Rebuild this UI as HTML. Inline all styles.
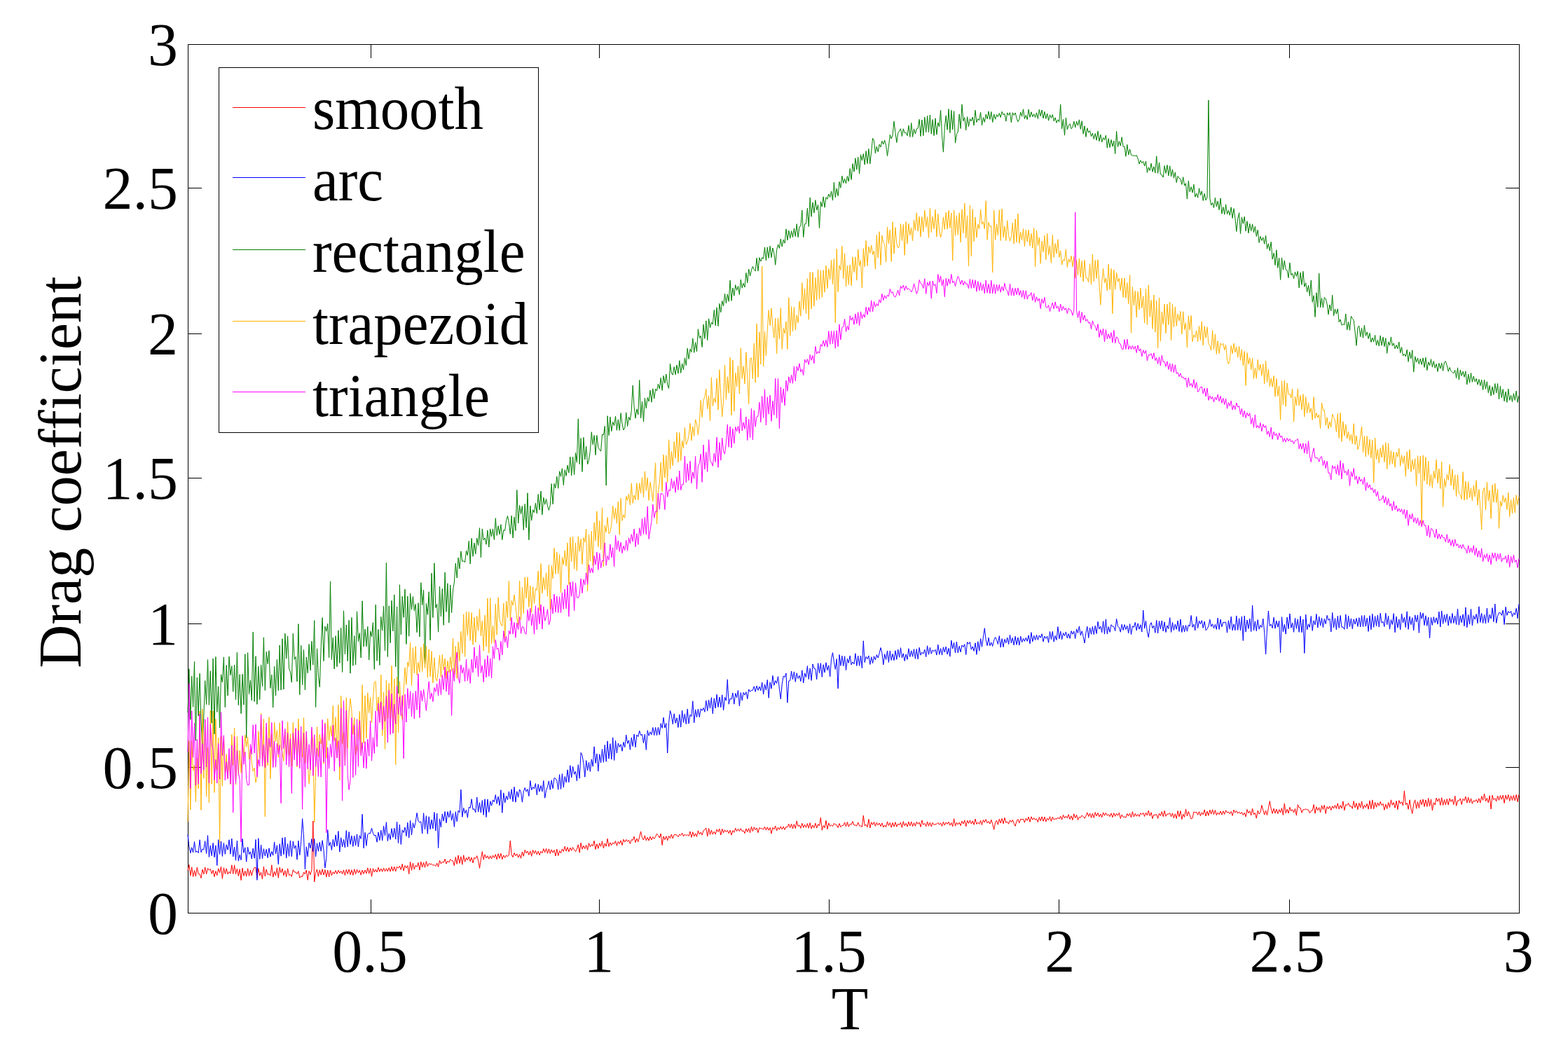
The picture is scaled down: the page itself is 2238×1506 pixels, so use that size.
<!DOCTYPE html><html><head><meta charset="utf-8"><style>html,body{margin:0;padding:0;background:#fff;overflow:hidden}svg{display:block}</style></head><body><svg width="2238" height="1506" viewBox="0 0 2238 1506">
<rect width="2238" height="1506" fill="#fff"/>
<path fill="none" stroke="#000" stroke-width="1" d="M268.5,63.5 H2168.5 V1303.5 H268.5 Z M529.5,1304 V1284 M529.5,63 V83 M855.5,1304 V1284 M855.5,63 V83 M1183.5,1304 V1284 M1183.5,63 V83 M1511.5,1304 V1284 M1511.5,63 V83 M1840.5,1304 V1284 M1840.5,63 V83 M2168.5,1304 V1284 M2168.5,63 V83 M268,1303.5 H288 M2169,1303.5 H2149 M268,1095.5 H288 M2169,1095.5 H2149 M268,890.5 H288 M2169,890.5 H2149 M268,682.5 H288 M2169,682.5 H2149 M268,476.5 H288 M2169,476.5 H2149 M268,268.5 H288 M2169,268.5 H2149 M268,63.5 H288 M2169,63.5 H2149"/>
<g fill="none" stroke-width="1" stroke-linejoin="miter">
<path stroke="#ff0000" d="M268.0,1242.8 L269.9,1234.4 271.8,1250.0 273.7,1237.8 275.6,1251.4 277.5,1242.5 279.4,1250.8 281.3,1238.0 283.2,1247.4 285.1,1247.9 287.0,1253.5 288.9,1241.1 290.8,1247.9 292.7,1237.9 294.6,1247.8 296.5,1239.4 298.4,1242.1 300.3,1240.4 302.2,1247.3 304.1,1242.1 306.0,1251.6 307.9,1243.5 309.8,1249.7 311.7,1239.8 313.6,1246.0 315.5,1237.1 317.4,1254.3 319.4,1238.7 321.3,1247.5 323.2,1239.9 325.1,1247.9 327.0,1244.3 328.9,1247.2 330.8,1234.8 332.7,1247.4 334.6,1234.8 336.5,1247.7 338.4,1240.0 340.3,1250.6 342.2,1240.7 344.1,1256.6 346.0,1239.1 347.9,1250.4 349.8,1243.3 351.7,1251.2 353.6,1239.7 355.5,1250.4 357.4,1242.2 359.3,1250.0 361.2,1242.0 363.1,1238.4 365.0,1238.4 366.9,1253.2 368.8,1239.6 370.7,1249.9 372.6,1245.2 374.5,1255.0 376.4,1237.1 378.3,1250.9 380.2,1240.9 382.1,1248.5 384.0,1247.4 385.9,1250.0 387.8,1234.7 389.7,1252.1 391.6,1243.9 393.5,1249.9 395.4,1238.8 397.3,1253.2 399.2,1238.1 401.1,1245.8 403.0,1240.0 404.9,1249.7 406.8,1242.6 408.7,1251.7 410.6,1239.8 412.5,1249.3 414.4,1248.3 416.3,1251.3 418.3,1241.5 420.2,1245.0 422.1,1244.9 424.0,1247.6 425.9,1243.6 427.8,1253.2 429.7,1250.7 431.6,1251.5 433.5,1245.1 435.4,1247.7 437.3,1242.0 439.2,1256.3 441.1,1243.4 443.0,1248.5 444.9,1241.6 446.8,1172.0 448.7,1259.0 450.6,1246.2 452.5,1241.0 454.4,1251.2 456.3,1241.9 458.2,1248.9 460.1,1240.7 462.0,1249.0 463.9,1241.5 465.8,1252.0 467.7,1242.0 469.6,1251.7 471.5,1242.0 473.4,1249.7 475.3,1244.6 477.2,1247.4 479.1,1242.6 481.0,1247.5 482.9,1242.3 484.8,1246.3 486.7,1243.2 488.6,1247.6 490.5,1241.8 492.4,1249.5 494.3,1241.3 496.2,1247.5 498.1,1240.9 500.0,1248.6 501.9,1241.8 503.8,1249.4 505.7,1240.7 507.6,1247.8 509.5,1241.1 511.4,1246.1 513.3,1242.3 515.2,1249.1 517.1,1242.1 519.1,1247.4 521.0,1242.0 522.9,1246.9 524.8,1238.9 526.7,1247.1 528.6,1239.5 530.5,1251.2 532.4,1239.7 534.3,1245.0 536.2,1241.1 538.1,1245.0 540.0,1238.2 541.9,1244.2 543.8,1239.9 545.7,1244.3 547.6,1239.0 549.5,1244.0 551.4,1239.7 553.3,1243.9 555.2,1238.7 557.1,1244.1 559.0,1237.0 560.9,1243.4 562.8,1237.2 564.7,1243.9 566.6,1237.1 568.5,1239.3 570.4,1236.2 572.3,1241.6 574.2,1233.3 576.1,1243.1 578.0,1235.6 579.9,1239.1 581.8,1235.5 583.7,1247.5 585.6,1230.2 587.5,1242.4 589.4,1232.0 591.3,1241.0 593.2,1235.1 595.1,1237.5 597.0,1231.4 598.9,1242.0 600.8,1230.2 602.7,1237.9 604.6,1231.1 606.5,1238.3 608.4,1229.5 610.3,1236.8 612.2,1232.6 614.1,1233.8 616.0,1233.2 617.9,1235.2 619.9,1234.6 621.8,1236.5 623.7,1232.1 625.6,1237.5 627.5,1228.1 629.4,1233.0 631.3,1230.2 633.2,1231.4 635.1,1226.2 637.0,1233.2 638.9,1229.0 640.8,1231.1 642.7,1226.7 644.6,1228.5 646.5,1228.9 648.4,1235.9 650.3,1223.5 652.2,1233.4 654.1,1220.9 656.0,1232.4 657.9,1222.8 659.8,1234.2 661.7,1220.7 663.6,1230.3 665.5,1224.5 667.4,1228.0 669.3,1222.9 671.2,1229.7 673.1,1223.9 675.0,1231.9 676.9,1224.1 678.8,1225.8 680.7,1221.6 682.6,1228.2 684.5,1239.4 686.4,1226.8 688.3,1215.6 690.2,1227.2 692.1,1219.8 694.0,1224.9 695.9,1221.7 697.8,1226.2 699.7,1221.7 701.6,1226.0 703.5,1221.0 705.4,1224.5 707.3,1219.6 709.2,1226.8 711.1,1218.6 713.0,1225.3 714.9,1218.2 716.8,1226.8 718.8,1220.9 720.7,1224.5 722.6,1220.7 724.5,1222.8 726.4,1220.0 728.3,1200.0 730.2,1219.8 732.1,1223.6 734.0,1217.4 735.9,1221.6 737.8,1218.9 739.7,1224.1 741.6,1219.7 743.5,1225.2 745.4,1215.9 747.3,1222.2 749.2,1213.2 751.1,1217.9 753.0,1215.0 754.9,1220.4 756.8,1214.8 758.7,1222.3 760.6,1213.4 762.5,1218.5 764.4,1214.1 766.3,1219.8 768.2,1215.2 770.1,1220.6 772.0,1215.3 773.9,1217.8 775.8,1211.5 777.7,1216.9 779.6,1211.3 781.5,1218.3 783.4,1211.8 785.3,1218.5 787.2,1212.8 789.1,1217.1 791.0,1213.5 792.9,1222.0 794.8,1212.1 796.7,1221.5 798.6,1214.6 800.5,1217.8 802.4,1211.8 804.3,1215.5 806.2,1208.2 808.1,1215.1 810.0,1209.4 811.9,1215.9 813.8,1210.0 815.7,1214.3 817.6,1209.6 819.6,1213.1 821.5,1215.6 823.4,1212.2 825.3,1205.8 827.2,1217.2 829.1,1203.0 831.0,1212.2 832.9,1207.3 834.8,1211.6 836.7,1206.3 838.6,1213.3 840.5,1203.4 842.4,1209.0 844.3,1205.4 846.2,1207.8 848.1,1200.2 850.0,1212.5 851.9,1204.7 853.8,1211.3 855.7,1203.6 857.6,1208.4 859.5,1200.7 861.4,1210.9 863.3,1203.8 865.2,1208.1 867.1,1197.2 869.0,1208.4 870.9,1202.8 872.8,1206.6 874.7,1202.9 876.6,1204.8 878.5,1200.5 880.4,1207.3 882.3,1201.4 884.2,1204.4 886.1,1199.8 888.0,1206.5 889.9,1198.2 891.8,1202.1 893.7,1198.4 895.6,1201.4 897.5,1199.1 899.4,1204.5 901.3,1198.6 903.2,1199.4 905.1,1194.2 907.0,1202.6 908.9,1197.1 910.8,1201.8 912.7,1194.7 914.6,1186.9 916.5,1195.6 918.5,1199.0 920.4,1192.7 922.3,1199.8 924.2,1195.3 926.1,1200.0 928.0,1194.1 929.9,1198.9 931.8,1194.6 933.7,1197.5 935.6,1194.4 937.5,1190.2 939.4,1192.3 941.3,1196.0 943.2,1190.0 945.1,1206.4 947.0,1193.8 948.9,1198.7 950.8,1193.5 952.7,1199.8 954.6,1193.3 956.5,1196.7 958.4,1190.9 960.3,1197.0 962.2,1191.5 964.1,1191.3 966.0,1192.1 967.9,1194.6 969.8,1191.0 971.7,1192.7 973.6,1189.0 975.5,1193.9 977.4,1191.0 979.3,1192.8 981.2,1191.4 983.1,1193.4 985.0,1186.9 986.9,1195.4 988.8,1187.7 990.7,1194.1 992.6,1189.7 994.5,1194.4 996.4,1185.7 998.3,1191.0 1000.2,1188.0 1002.1,1192.0 1004.0,1185.6 1005.9,1184.5 1007.8,1182.0 1009.7,1194.0 1011.6,1182.5 1013.5,1191.4 1015.4,1184.9 1017.3,1191.1 1019.3,1187.0 1021.2,1190.9 1023.1,1183.9 1025.0,1187.4 1026.9,1183.1 1028.8,1192.0 1030.7,1183.2 1032.6,1188.9 1034.5,1184.6 1036.4,1187.8 1038.3,1185.2 1040.2,1189.7 1042.1,1185.2 1044.0,1192.1 1045.9,1185.6 1047.8,1188.3 1049.7,1182.2 1051.6,1186.6 1053.5,1183.3 1055.4,1186.5 1057.3,1182.6 1059.2,1186.6 1061.1,1185.7 1063.0,1189.7 1064.9,1182.9 1066.8,1187.5 1068.7,1182.6 1070.6,1188.8 1072.5,1179.9 1074.4,1186.7 1076.3,1180.7 1078.2,1184.7 1080.1,1181.9 1082.0,1188.6 1083.9,1181.5 1085.8,1182.9 1087.7,1182.7 1089.6,1184.1 1091.5,1180.1 1093.4,1185.1 1095.3,1180.7 1097.2,1185.2 1099.1,1181.4 1101.0,1190.0 1102.9,1181.3 1104.8,1184.0 1106.7,1178.9 1108.6,1185.8 1110.5,1181.1 1112.4,1184.2 1114.3,1179.8 1116.2,1183.9 1118.2,1179.9 1120.1,1184.4 1122.0,1180.2 1123.9,1180.9 1125.8,1176.2 1127.7,1181.6 1129.6,1176.1 1131.5,1183.0 1133.4,1176.6 1135.3,1182.6 1137.2,1171.9 1139.1,1179.6 1141.0,1177.8 1142.9,1182.3 1144.8,1175.2 1146.7,1181.4 1148.6,1177.0 1150.5,1181.3 1152.4,1175.5 1154.3,1182.2 1156.2,1174.5 1158.1,1183.0 1160.0,1177.9 1161.9,1181.7 1163.8,1175.0 1165.7,1182.1 1167.6,1176.5 1169.5,1178.9 1171.4,1167.0 1173.3,1185.2 1175.2,1178.4 1177.1,1181.6 1179.0,1171.3 1180.9,1183.7 1182.8,1174.9 1184.7,1179.3 1186.6,1177.7 1188.5,1179.5 1190.4,1175.3 1192.3,1177.0 1194.2,1177.6 1196.1,1181.5 1198.0,1175.5 1199.9,1180.6 1201.8,1178.4 1203.7,1178.4 1205.6,1173.9 1207.5,1179.9 1209.4,1173.4 1211.3,1180.2 1213.2,1176.2 1215.1,1177.0 1217.0,1172.6 1219.0,1178.0 1220.9,1177.9 1222.8,1179.1 1224.7,1173.9 1226.6,1178.9 1228.5,1179.1 1230.4,1180.3 1232.3,1164.0 1234.2,1178.7 1236.1,1177.1 1238.0,1180.7 1239.9,1169.4 1241.8,1182.0 1243.7,1173.8 1245.6,1177.4 1247.5,1173.3 1249.4,1179.4 1251.3,1174.2 1253.2,1177.9 1255.1,1175.0 1257.0,1179.6 1258.9,1174.8 1260.8,1180.8 1262.7,1177.9 1264.6,1180.7 1266.5,1172.8 1268.4,1178.7 1270.3,1174.4 1272.2,1181.2 1274.1,1174.4 1276.0,1180.0 1277.9,1173.6 1279.8,1180.2 1281.7,1175.9 1283.6,1177.9 1285.5,1173.9 1287.4,1181.4 1289.3,1172.6 1291.2,1179.0 1293.1,1175.3 1295.0,1180.1 1296.9,1173.0 1298.8,1179.1 1300.7,1172.9 1302.6,1179.7 1304.5,1174.5 1306.4,1179.3 1308.3,1173.1 1310.2,1176.3 1312.1,1174.0 1314.0,1180.4 1315.9,1170.8 1317.8,1177.3 1319.8,1175.3 1321.7,1179.8 1323.6,1172.9 1325.5,1179.2 1327.4,1174.0 1329.3,1179.9 1331.2,1174.3 1333.1,1177.6 1335.0,1176.5 1336.9,1176.4 1338.8,1174.3 1340.7,1177.3 1342.6,1174.7 1344.5,1179.4 1346.4,1173.1 1348.3,1178.1 1350.2,1173.8 1352.1,1176.4 1354.0,1173.2 1355.9,1178.1 1357.8,1174.4 1359.7,1180.0 1361.6,1168.6 1363.5,1179.2 1365.4,1174.2 1367.3,1177.1 1369.2,1174.0 1371.1,1178.6 1373.0,1172.1 1374.9,1176.0 1376.8,1170.8 1378.7,1180.0 1380.6,1171.2 1382.5,1175.5 1384.4,1170.9 1386.3,1176.0 1388.2,1171.9 1390.1,1177.3 1392.0,1169.0 1393.9,1176.4 1395.8,1173.9 1397.7,1176.4 1399.6,1171.3 1401.5,1177.5 1403.4,1170.4 1405.3,1173.9 1407.2,1169.6 1409.1,1174.8 1411.0,1172.5 1412.9,1176.1 1414.8,1170.2 1416.7,1176.3 1418.7,1184.3 1420.6,1173.9 1422.5,1171.1 1424.4,1177.2 1426.3,1169.2 1428.2,1175.0 1430.1,1168.4 1432.0,1175.8 1433.9,1167.3 1435.8,1174.4 1437.7,1172.9 1439.6,1176.2 1441.5,1170.7 1443.4,1173.6 1445.3,1170.3 1447.2,1175.2 1449.1,1179.3 1451.0,1172.2 1452.9,1169.4 1454.8,1174.8 1456.7,1169.2 1458.6,1169.8 1460.5,1169.2 1462.4,1174.2 1464.3,1168.1 1466.2,1171.3 1468.1,1166.0 1470.0,1173.4 1471.9,1165.8 1473.8,1170.2 1475.7,1167.5 1477.6,1170.5 1479.5,1168.7 1481.4,1173.7 1483.3,1166.5 1485.2,1171.8 1487.1,1165.8 1489.0,1172.3 1490.9,1166.0 1492.8,1172.9 1494.7,1168.1 1496.6,1170.8 1498.5,1165.7 1500.4,1172.5 1502.3,1166.2 1504.2,1170.2 1506.1,1168.6 1508.0,1169.2 1509.9,1167.0 1511.8,1169.1 1513.7,1165.0 1515.6,1170.2 1517.5,1163.3 1519.5,1167.9 1521.4,1164.9 1523.3,1167.8 1525.2,1162.7 1527.1,1169.5 1529.0,1164.7 1530.9,1170.6 1532.8,1161.8 1534.7,1167.8 1536.6,1163.2 1538.5,1170.5 1540.4,1166.3 1542.3,1167.2 1544.2,1164.0 1546.1,1165.5 1548.0,1168.3 1549.9,1164.9 1551.8,1159.9 1553.7,1165.6 1555.6,1160.9 1557.5,1167.4 1559.4,1161.1 1561.3,1167.4 1563.2,1159.5 1565.1,1164.9 1567.0,1160.5 1568.9,1165.9 1570.8,1162.0 1572.7,1166.8 1574.6,1159.8 1576.5,1164.3 1578.4,1160.3 1580.3,1164.2 1582.2,1162.5 1584.1,1165.6 1586.0,1161.0 1587.9,1166.8 1589.8,1160.6 1591.7,1165.3 1593.6,1161.3 1595.5,1164.2 1597.4,1160.2 1599.3,1168.5 1601.2,1162.9 1603.1,1166.4 1605.0,1166.0 1606.9,1167.2 1608.8,1161.5 1610.7,1164.9 1612.6,1161.0 1614.5,1167.0 1616.4,1158.6 1618.4,1166.0 1620.3,1161.3 1622.2,1165.2 1624.1,1162.4 1626.0,1165.6 1627.9,1160.7 1629.8,1162.8 1631.7,1160.2 1633.6,1165.5 1635.5,1160.1 1637.4,1164.0 1639.3,1157.1 1641.2,1164.7 1643.1,1159.8 1645.0,1168.6 1646.9,1162.9 1648.8,1163.7 1650.7,1162.4 1652.6,1168.3 1654.5,1161.1 1656.4,1164.4 1658.3,1158.6 1660.2,1165.7 1662.1,1157.3 1664.0,1165.3 1665.9,1161.9 1667.8,1162.3 1669.7,1160.5 1671.6,1165.9 1673.5,1160.7 1675.4,1167.8 1677.3,1161.7 1679.2,1168.5 1681.1,1157.4 1683.0,1165.9 1684.9,1157.4 1686.8,1169.6 1688.7,1162.2 1690.6,1166.5 1692.5,1154.9 1694.4,1165.0 1696.3,1158.4 1698.2,1163.6 1700.1,1169.0 1702.0,1167.8 1703.9,1159.0 1705.8,1159.8 1707.7,1159.2 1709.6,1163.3 1711.5,1158.6 1713.4,1164.7 1715.3,1159.8 1717.2,1162.9 1719.2,1155.9 1721.1,1165.0 1723.0,1158.1 1724.9,1164.2 1726.8,1156.1 1728.7,1162.1 1730.6,1155.7 1732.5,1162.6 1734.4,1156.4 1736.3,1163.7 1738.2,1159.9 1740.1,1162.6 1742.0,1157.9 1743.9,1163.1 1745.8,1157.7 1747.7,1162.4 1749.6,1156.7 1751.5,1160.1 1753.4,1159.0 1755.3,1161.7 1757.2,1158.5 1759.1,1164.4 1761.0,1156.0 1762.9,1160.1 1764.8,1157.5 1766.7,1161.1 1768.6,1158.9 1770.5,1161.9 1772.4,1159.3 1774.3,1163.5 1776.2,1160.2 1778.1,1165.9 1780.0,1155.5 1781.9,1160.6 1783.8,1157.7 1785.7,1163.9 1787.6,1154.0 1789.5,1162.7 1791.4,1160.4 1793.3,1168.1 1795.2,1157.1 1797.1,1162.1 1799.0,1159.6 1800.9,1149.4 1802.8,1156.5 1804.7,1163.1 1806.6,1157.0 1808.5,1163.6 1810.4,1153.8 1812.3,1143.6 1814.2,1154.2 1816.1,1161.4 1818.1,1154.2 1820.0,1160.9 1821.9,1155.1 1823.8,1161.6 1825.7,1155.6 1827.6,1160.0 1829.5,1153.5 1831.4,1163.5 1833.3,1146.9 1835.2,1160.8 1837.1,1155.2 1839.0,1161.0 1840.9,1152.3 1842.8,1157.7 1844.7,1155.5 1846.6,1160.0 1848.5,1154.3 1850.4,1164.1 1852.3,1148.6 1854.2,1152.9 1856.1,1153.2 1858.0,1160.2 1859.9,1155.7 1861.8,1155.7 1863.7,1154.9 1865.6,1155.8 1867.5,1156.1 1869.4,1160.7 1871.3,1157.3 1873.2,1157.1 1875.1,1148.5 1877.0,1161.1 1878.9,1151.7 1880.8,1156.7 1882.7,1152.6 1884.6,1159.7 1886.5,1149.8 1888.4,1155.4 1890.3,1149.1 1892.2,1161.5 1894.1,1151.4 1896.0,1154.6 1897.9,1150.9 1899.8,1156.6 1901.7,1150.7 1903.6,1154.1 1905.5,1149.3 1907.4,1154.3 1909.3,1146.6 1911.2,1154.9 1913.1,1149.6 1915.0,1153.9 1916.9,1143.8 1918.9,1156.7 1920.8,1148.4 1922.7,1149.7 1924.6,1146.4 1926.5,1151.2 1928.4,1150.4 1930.3,1154.4 1932.2,1143.5 1934.1,1152.9 1936.0,1146.5 1937.9,1155.7 1939.8,1146.3 1941.7,1153.0 1943.6,1143.9 1945.5,1154.7 1947.4,1149.2 1949.3,1152.7 1951.2,1147.3 1953.1,1155.2 1955.0,1142.8 1956.9,1154.6 1958.8,1141.9 1960.7,1154.9 1962.6,1145.2 1964.5,1152.3 1966.4,1145.9 1968.3,1150.2 1970.2,1144.4 1972.1,1149.5 1974.0,1147.2 1975.9,1156.3 1977.8,1148.1 1979.7,1154.5 1981.6,1145.4 1983.5,1152.6 1985.4,1141.8 1987.3,1149.4 1989.2,1145.5 1991.1,1153.4 1993.0,1143.3 1994.9,1155.6 1996.8,1142.6 1998.7,1147.2 2000.6,1144.7 2002.5,1149.8 2004.4,1128.8 2006.3,1148.7 2008.2,1146.2 2010.1,1155.3 2012.0,1141.8 2013.9,1153.9 2015.8,1161.5 2017.7,1147.7 2019.7,1141.8 2021.6,1154.3 2023.5,1144.5 2025.4,1153.5 2027.3,1141.8 2029.2,1148.8 2031.1,1140.9 2033.0,1151.5 2034.9,1141.9 2036.8,1151.5 2038.7,1139.5 2040.6,1150.9 2042.5,1140.8 2044.4,1157.0 2046.3,1145.7 2048.2,1149.0 2050.1,1139.1 2052.0,1144.1 2053.9,1139.9 2055.8,1149.5 2057.7,1138.7 2059.6,1149.5 2061.5,1141.5 2063.4,1149.1 2065.3,1140.4 2067.2,1149.1 2069.1,1139.6 2071.0,1144.3 2072.9,1141.0 2074.8,1148.5 2076.7,1136.1 2078.6,1150.4 2080.5,1142.8 2082.4,1143.1 2084.3,1139.8 2086.2,1148.5 2088.1,1140.3 2090.0,1143.0 2091.9,1137.0 2093.8,1146.2 2095.7,1138.2 2097.6,1146.1 2099.5,1139.8 2101.4,1147.3 2103.3,1142.8 2105.2,1144.2 2107.1,1141.4 2109.0,1145.9 2110.9,1139.8 2112.8,1146.2 2114.7,1136.5 2116.6,1142.4 2118.6,1133.0 2120.5,1143.9 2122.4,1139.3 2124.3,1145.8 2126.2,1135.7 2128.1,1155.0 2130.0,1135.2 2131.9,1141.7 2133.8,1139.5 2135.7,1144.0 2137.6,1136.0 2139.5,1142.4 2141.4,1135.5 2143.3,1141.2 2145.2,1135.1 2147.1,1146.5 2149.0,1135.1 2150.9,1141.3 2152.8,1134.4 2154.7,1143.5 2156.6,1135.9 2158.5,1142.5 2160.4,1135.2 2162.3,1143.0 2164.2,1134.3 2166.1,1144.6 2168.0,1134.2"/>
<path stroke="#0000ff" d="M268.0,1191.6 L269.9,1208.4 271.8,1217.8 273.7,1209.7 275.6,1216.9 277.5,1201.5 279.4,1216.5 281.3,1214.9 283.2,1217.6 285.1,1198.8 287.0,1216.7 288.9,1212.0 290.8,1212.8 292.7,1200.6 294.6,1218.5 296.5,1192.5 298.4,1223.4 300.3,1207.1 302.2,1221.6 304.1,1203.4 306.0,1223.7 307.9,1206.9 309.8,1235.5 311.7,1198.7 313.6,1219.4 315.5,1200.9 317.4,1222.4 319.4,1203.5 321.3,1219.3 323.2,1205.8 325.1,1213.2 327.0,1198.8 328.9,1219.1 330.8,1197.0 332.7,1222.9 334.6,1209.0 336.5,1228.2 338.4,1200.0 340.3,1229.1 342.2,1220.3 344.1,1227.7 346.0,1197.4 347.9,1217.4 349.8,1209.9 351.7,1230.2 353.6,1209.2 355.5,1219.7 357.4,1215.9 359.3,1226.0 361.2,1210.9 363.1,1225.2 365.0,1198.5 366.9,1256.3 368.8,1196.7 370.7,1226.4 372.6,1206.0 374.5,1225.7 376.4,1211.6 378.3,1222.0 380.2,1212.3 382.1,1224.6 384.0,1210.7 385.9,1223.0 387.8,1215.5 389.7,1221.1 391.6,1201.9 393.5,1219.0 395.4,1206.7 397.3,1233.7 399.2,1204.7 401.1,1222.1 403.0,1195.9 404.9,1219.8 406.8,1195.2 408.7,1225.0 410.6,1204.5 412.5,1222.3 414.4,1199.9 416.3,1222.7 418.3,1200.8 420.2,1211.3 422.1,1207.0 424.0,1227.0 425.9,1200.1 427.8,1220.5 429.7,1201.7 431.6,1168.6 433.5,1194.1 435.4,1240.8 437.3,1208.8 439.2,1222.8 441.1,1203.0 443.0,1210.8 444.9,1197.6 446.8,1215.5 448.7,1197.5 450.6,1222.7 452.5,1203.6 454.4,1215.2 456.3,1202.2 458.2,1215.1 460.1,1199.7 462.0,1213.3 463.9,1239.0 465.8,1225.3 467.7,1184.6 469.6,1207.4 471.5,1202.2 473.4,1213.5 475.3,1198.2 477.2,1208.8 479.1,1191.7 481.0,1207.8 482.9,1186.5 484.8,1216.0 486.7,1195.7 488.6,1208.9 490.5,1198.4 492.4,1210.0 494.3,1185.5 496.2,1208.8 498.1,1187.5 500.0,1205.4 501.9,1192.9 503.8,1208.4 505.7,1193.3 507.6,1206.9 509.5,1190.8 511.4,1209.0 513.3,1192.7 515.2,1197.4 517.1,1162.3 519.1,1210.7 521.0,1188.3 522.9,1207.4 524.8,1191.1 526.7,1189.2 528.6,1189.7 530.5,1182.1 532.4,1189.2 534.3,1193.0 536.2,1192.1 538.1,1202.2 540.0,1187.9 541.9,1199.6 543.8,1185.1 545.7,1199.9 547.6,1179.2 549.5,1193.0 551.4,1173.7 553.3,1200.5 555.2,1189.8 557.1,1198.6 559.0,1182.7 560.9,1195.3 562.8,1182.1 564.7,1198.0 566.6,1173.3 568.5,1203.5 570.4,1177.1 572.3,1205.4 574.2,1184.8 576.1,1188.4 578.0,1180.9 579.9,1193.6 581.8,1174.2 583.7,1196.1 585.6,1171.2 587.5,1191.9 589.4,1174.7 591.3,1182.0 593.2,1173.1 595.1,1160.4 597.0,1172.2 598.9,1174.0 600.8,1172.8 602.7,1189.9 604.6,1160.7 606.5,1184.0 608.4,1164.6 610.3,1190.3 612.2,1165.8 614.1,1183.7 616.0,1170.1 617.9,1182.9 619.9,1159.5 621.8,1186.0 623.7,1161.0 625.6,1210.5 627.5,1168.9 629.4,1180.9 631.3,1161.9 633.2,1172.1 635.1,1158.4 637.0,1174.8 638.9,1158.6 640.8,1166.9 642.7,1157.0 644.6,1171.1 646.5,1161.0 648.4,1180.4 650.3,1158.7 652.2,1172.7 654.1,1157.1 656.0,1159.8 657.9,1127.2 659.8,1166.3 661.7,1153.4 663.6,1161.2 665.5,1156.2 667.4,1167.3 669.3,1152.1 671.2,1153.3 673.1,1140.6 675.0,1155.7 676.9,1154.6 678.8,1159.8 680.7,1137.9 682.6,1159.1 684.5,1145.7 686.4,1160.2 688.3,1142.6 690.2,1163.4 692.1,1140.7 694.0,1166.5 695.9,1140.9 697.8,1159.4 699.7,1143.7 701.6,1150.2 703.5,1141.9 705.4,1144.7 707.3,1134.5 709.2,1147.4 711.1,1137.1 713.0,1149.8 714.9,1127.7 716.8,1160.3 718.8,1131.9 720.7,1145.9 722.6,1136.1 724.5,1141.9 726.4,1129.8 728.3,1140.6 730.2,1126.6 732.1,1144.4 734.0,1123.3 735.9,1145.1 737.8,1129.8 739.7,1138.1 741.6,1126.9 743.5,1130.6 745.4,1145.2 747.3,1129.9 749.2,1124.4 751.1,1130.0 753.0,1126.5 754.9,1136.5 756.8,1114.3 758.7,1127.7 760.6,1123.4 762.5,1126.0 764.4,1118.4 766.3,1134.7 768.2,1119.6 770.1,1130.1 772.0,1121.5 773.9,1129.9 775.8,1114.4 777.7,1139.2 779.6,1128.1 781.5,1123.1 783.4,1114.8 785.3,1127.5 787.2,1113.7 789.1,1125.7 791.0,1110.6 792.9,1111.3 794.8,1114.0 796.7,1127.2 798.6,1105.6 800.5,1126.5 802.4,1104.5 804.3,1124.1 806.2,1108.5 808.1,1116.8 810.0,1098.8 811.9,1116.7 813.8,1092.7 815.7,1109.9 817.6,1094.1 819.6,1105.3 821.5,1101.1 823.4,1114.8 825.3,1091.7 827.2,1111.2 829.1,1074.4 831.0,1078.3 832.9,1089.5 834.8,1109.2 836.7,1085.6 838.6,1099.9 840.5,1088.0 842.4,1101.4 844.3,1083.8 846.2,1094.2 848.1,1065.8 850.0,1089.4 851.9,1075.9 853.8,1100.9 855.7,1076.7 857.6,1088.8 859.5,1069.4 861.4,1088.2 863.3,1063.4 865.2,1087.2 867.1,1057.8 869.0,1083.0 870.9,1061.7 872.8,1084.0 874.7,1052.9 876.6,1085.4 878.5,1057.1 880.4,1075.1 882.3,1060.9 884.2,1066.4 886.1,1062.6 888.0,1072.3 889.9,1059.4 891.8,1066.7 893.7,1049.1 895.6,1061.4 897.5,1056.7 899.4,1070.3 901.3,1052.9 903.2,1065.5 905.1,1047.9 907.0,1066.7 908.9,1049.0 910.8,1051.5 912.7,1043.1 914.6,1049.5 916.5,1048.4 918.5,1060.7 920.4,1048.2 922.3,1070.4 924.2,1042.7 926.1,1050.3 928.0,1044.8 929.9,1048.8 931.8,1038.5 933.7,1049.5 935.6,1038.3 937.5,1049.7 939.4,1038.3 941.3,1049.1 943.2,1032.7 945.1,1039.4 947.0,1024.2 948.9,1038.9 950.8,1032.5 952.7,1075.0 954.6,1031.6 956.5,1014.4 958.4,1020.9 960.3,1033.7 962.2,1018.8 964.1,1032.2 966.0,1024.8 967.9,1038.5 969.8,1019.9 971.7,1038.0 973.6,1014.2 975.5,1031.3 977.4,1019.0 979.3,1033.6 981.2,1012.1 983.1,1032.9 985.0,1020.2 986.9,1022.7 988.8,1000.8 990.7,1031.8 992.6,1012.9 994.5,1023.8 996.4,1012.1 998.3,1023.8 1000.2,1011.7 1002.1,1014.3 1004.0,1010.5 1005.9,1016.3 1007.8,1000.1 1009.7,1014.9 1011.6,999.2 1013.5,1011.2 1015.4,995.7 1017.3,1018.8 1019.3,996.9 1021.2,1011.0 1023.1,991.3 1025.0,1009.4 1026.9,995.0 1028.8,1009.7 1030.7,991.9 1032.6,1013.8 1034.5,995.3 1036.4,1000.2 1038.3,969.9 1040.2,1005.2 1042.1,997.2 1044.0,998.1 1045.9,989.1 1047.8,1005.2 1049.7,989.6 1051.6,995.9 1053.5,985.5 1055.4,1008.0 1057.3,988.7 1059.2,999.9 1061.1,988.5 1063.0,992.2 1064.9,987.7 1066.8,997.7 1068.7,984.1 1070.6,987.4 1072.5,985.5 1074.4,985.2 1076.3,979.8 1078.2,987.5 1080.1,979.1 1082.0,985.4 1083.9,980.1 1085.8,985.9 1087.7,974.0 1089.6,991.1 1091.5,976.9 1093.4,985.1 1095.3,970.4 1097.2,996.3 1099.1,973.8 1101.0,983.1 1102.9,964.4 1104.8,978.3 1106.7,971.6 1108.6,975.5 1110.5,965.7 1112.4,983.4 1114.3,997.9 1116.2,976.8 1118.2,965.0 1120.1,966.7 1122.0,961.0 1123.9,1003.0 1125.8,972.1 1127.7,971.4 1129.6,958.0 1131.5,969.9 1133.4,958.9 1135.3,973.4 1137.2,960.8 1139.1,968.5 1141.0,964.5 1142.9,972.7 1144.8,956.8 1146.7,975.0 1148.6,960.9 1150.5,966.9 1152.4,950.6 1154.3,969.6 1156.2,954.0 1158.1,971.4 1160.0,947.9 1161.9,954.1 1163.8,954.8 1165.7,969.9 1167.6,946.7 1169.5,960.8 1171.4,946.6 1173.3,966.5 1175.2,948.8 1177.1,960.1 1179.0,945.8 1180.9,956.6 1182.8,949.8 1184.7,965.9 1186.6,940.2 1188.5,931.7 1190.4,944.5 1192.3,955.4 1194.2,940.6 1196.1,982.9 1198.0,934.5 1199.9,950.4 1201.8,936.2 1203.7,950.8 1205.6,936.7 1207.5,956.7 1209.4,940.3 1211.3,946.4 1213.2,936.0 1215.1,949.0 1217.0,944.9 1219.0,947.9 1220.9,932.7 1222.8,950.5 1224.7,936.2 1226.6,950.4 1228.5,936.0 1230.4,953.9 1232.3,914.8 1234.2,945.6 1236.1,937.4 1238.0,940.6 1239.9,936.0 1241.8,948.5 1243.7,937.8 1245.6,946.7 1247.5,936.7 1249.4,942.1 1251.3,934.6 1253.2,939.1 1255.1,932.5 1257.0,924.5 1258.9,932.2 1260.8,948.9 1262.7,933.7 1264.6,941.5 1266.5,928.9 1268.4,945.5 1270.3,929.1 1272.2,942.5 1274.1,933.4 1276.0,942.8 1277.9,928.7 1279.8,941.4 1281.7,927.1 1283.6,938.3 1285.5,924.7 1287.4,939.1 1289.3,932.8 1291.2,943.5 1293.1,934.0 1295.0,941.4 1296.9,925.8 1298.8,937.6 1300.7,928.8 1302.6,937.4 1304.5,926.6 1306.4,940.3 1308.3,926.4 1310.2,940.9 1312.1,924.3 1314.0,935.2 1315.9,931.1 1317.8,933.3 1319.8,927.2 1321.7,937.7 1323.6,921.8 1325.5,934.3 1327.4,924.3 1329.3,933.3 1331.2,927.8 1333.1,929.9 1335.0,927.4 1336.9,935.1 1338.8,920.3 1340.7,934.3 1342.6,925.6 1344.5,935.1 1346.4,923.8 1348.3,931.0 1350.2,923.1 1352.1,934.1 1354.0,925.3 1355.9,937.1 1357.8,914.1 1359.7,926.1 1361.6,917.3 1363.5,932.0 1365.4,916.0 1367.3,932.0 1369.2,922.4 1371.1,930.8 1373.0,921.0 1374.9,923.6 1376.8,919.6 1378.7,934.6 1380.6,916.6 1382.5,919.3 1384.4,916.6 1386.3,927.3 1388.2,922.9 1390.1,929.4 1392.0,917.8 1393.9,934.4 1395.8,915.8 1397.7,929.2 1399.6,911.6 1401.5,923.4 1403.4,909.9 1405.3,896.7 1407.2,913.3 1409.1,921.6 1411.0,910.3 1412.9,921.8 1414.8,917.1 1416.7,922.5 1418.7,913.7 1420.6,909.6 1422.5,913.4 1424.4,919.5 1426.3,907.6 1428.2,924.1 1430.1,911.7 1432.0,923.7 1433.9,912.5 1435.8,917.9 1437.7,910.2 1439.6,919.8 1441.5,906.4 1443.4,917.9 1445.3,910.5 1447.2,920.9 1449.1,908.3 1451.0,920.4 1452.9,910.0 1454.8,921.1 1456.7,908.2 1458.6,916.9 1460.5,911.4 1462.4,915.5 1464.3,910.3 1466.2,915.4 1468.1,906.8 1470.0,918.9 1471.9,902.7 1473.8,915.9 1475.7,907.3 1477.6,913.7 1479.5,906.3 1481.4,913.5 1483.3,906.9 1485.2,910.4 1487.1,904.8 1489.0,916.0 1490.9,908.2 1492.8,911.5 1494.7,908.1 1496.6,917.4 1498.5,901.5 1500.4,912.8 1502.3,901.3 1504.2,916.2 1506.1,907.5 1508.0,913.6 1509.9,894.6 1511.8,911.9 1513.7,901.1 1515.6,912.8 1517.5,903.6 1519.5,907.7 1521.4,902.0 1523.3,910.9 1525.2,904.6 1527.1,911.4 1529.0,900.7 1530.9,905.3 1532.8,901.2 1534.7,911.5 1536.6,897.9 1538.5,903.7 1540.4,893.9 1542.3,907.0 1544.2,900.8 1546.1,908.6 1548.0,918.0 1549.9,903.4 1551.8,894.3 1553.7,910.6 1555.6,896.1 1557.5,905.4 1559.4,894.4 1561.3,905.8 1563.2,893.3 1565.1,904.6 1567.0,887.3 1568.9,898.0 1570.8,894.1 1572.7,902.9 1574.6,886.7 1576.5,905.2 1578.4,883.8 1580.3,905.1 1582.2,894.6 1584.1,902.4 1586.0,891.7 1587.9,894.1 1589.8,894.7 1591.7,900.6 1593.6,883.4 1595.5,893.9 1597.4,895.8 1599.3,902.3 1601.2,891.3 1603.1,899.6 1605.0,891.6 1606.9,898.5 1608.8,893.4 1610.7,903.8 1612.6,890.6 1614.5,905.8 1616.4,893.7 1618.4,895.4 1620.3,888.4 1622.2,900.1 1624.1,889.9 1626.0,898.2 1627.9,891.8 1629.8,902.1 1631.7,871.1 1633.6,897.1 1635.5,886.3 1637.4,901.7 1639.3,909.8 1641.2,892.6 1643.1,888.7 1645.0,896.7 1646.9,893.1 1648.8,903.3 1650.7,885.4 1652.6,904.1 1654.5,886.5 1656.4,897.8 1658.3,886.0 1660.2,900.9 1662.1,887.9 1664.0,902.6 1665.9,892.9 1667.8,897.6 1669.7,881.7 1671.6,902.5 1673.5,888.5 1675.4,899.7 1677.3,891.1 1679.2,898.3 1681.1,886.0 1683.0,901.4 1684.9,884.0 1686.8,902.6 1688.7,892.6 1690.6,902.1 1692.5,892.6 1694.4,901.2 1696.3,891.9 1698.2,894.1 1700.1,878.5 1702.0,895.3 1703.9,891.2 1705.8,900.0 1707.7,880.1 1709.6,896.6 1711.5,886.3 1713.4,890.8 1715.3,885.7 1717.2,896.5 1719.2,887.0 1721.1,899.9 1723.0,897.7 1724.9,894.0 1726.8,884.3 1728.7,894.4 1730.6,890.7 1732.5,896.9 1734.4,891.4 1736.3,898.5 1738.2,882.2 1740.1,898.5 1742.0,884.1 1743.9,894.7 1745.8,888.5 1747.7,888.4 1749.6,888.2 1751.5,903.2 1753.4,885.8 1755.3,898.2 1757.2,880.2 1759.1,899.9 1761.0,890.9 1762.9,899.8 1764.8,879.1 1766.7,899.4 1768.6,882.7 1770.5,900.1 1772.4,880.0 1774.3,914.5 1776.2,879.2 1778.1,902.1 1780.0,885.0 1781.9,897.5 1783.8,883.3 1785.7,901.6 1787.6,864.1 1789.5,900.0 1791.4,886.9 1793.3,900.8 1795.2,884.6 1797.1,898.2 1799.0,892.5 1800.9,895.7 1802.8,883.1 1804.7,902.9 1806.6,934.0 1808.5,898.0 1810.4,872.0 1812.3,893.7 1814.2,891.1 1816.1,896.6 1818.1,881.3 1820.0,897.2 1821.9,886.2 1823.8,895.1 1825.7,886.3 1827.6,931.6 1829.5,880.7 1831.4,902.1 1833.3,891.4 1835.2,905.2 1837.1,881.1 1839.0,897.7 1840.9,876.0 1842.8,896.3 1844.7,889.3 1846.6,902.4 1848.5,882.4 1850.4,897.4 1852.3,883.9 1854.2,902.4 1856.1,879.5 1858.0,902.8 1859.9,884.1 1861.8,932.5 1863.7,877.3 1865.6,899.1 1867.5,890.8 1869.4,895.5 1871.3,879.5 1873.2,900.4 1875.1,885.9 1877.0,891.9 1878.9,876.6 1880.8,896.1 1882.7,880.2 1884.6,893.2 1886.5,882.2 1888.4,895.6 1890.3,883.4 1892.2,890.6 1894.1,878.4 1896.0,885.4 1897.9,883.1 1899.8,902.0 1901.7,874.5 1903.6,896.0 1905.5,882.6 1907.4,899.1 1909.3,879.3 1911.2,896.4 1913.1,878.6 1915.0,895.2 1916.9,895.0 1918.9,898.4 1920.8,877.0 1922.7,897.7 1924.6,879.1 1926.5,894.6 1928.4,882.9 1930.3,897.7 1932.2,883.9 1934.1,891.1 1936.0,882.5 1937.9,894.4 1939.8,881.7 1941.7,895.0 1943.6,878.6 1945.5,894.6 1947.4,878.3 1949.3,894.1 1951.2,882.2 1953.1,901.4 1955.0,878.8 1956.9,898.7 1958.8,876.4 1960.7,895.4 1962.6,879.6 1964.5,893.7 1966.4,878.0 1968.3,895.1 1970.2,875.3 1972.1,889.3 1974.0,887.2 1975.9,894.6 1977.8,875.2 1979.7,891.8 1981.6,879.3 1983.5,898.2 1985.4,884.6 1987.3,891.5 1989.2,875.8 1991.1,902.8 1993.0,880.1 1994.9,896.2 1996.8,883.9 1998.7,898.9 2000.6,876.1 2002.5,889.2 2004.4,881.2 2006.3,895.6 2008.2,872.9 2010.1,898.4 2012.0,879.9 2013.9,891.7 2015.8,881.7 2017.7,899.9 2019.7,877.9 2021.6,888.0 2023.5,877.8 2025.4,903.4 2027.3,874.0 2029.2,883.2 2031.1,875.1 2033.0,892.6 2034.9,878.9 2036.8,893.4 2038.7,881.0 2040.6,910.8 2042.5,881.4 2044.4,892.4 2046.3,880.6 2048.2,889.2 2050.1,881.8 2052.0,891.1 2053.9,873.2 2055.8,895.0 2057.7,872.1 2059.6,890.5 2061.5,877.5 2063.4,888.3 2065.3,876.5 2067.2,893.1 2069.1,879.6 2071.0,889.8 2072.9,875.5 2074.8,889.5 2076.7,879.1 2078.6,891.5 2080.5,869.0 2082.4,892.3 2084.3,878.9 2086.2,888.8 2088.1,876.9 2090.0,893.7 2091.9,867.1 2093.8,895.8 2095.7,877.5 2097.6,891.1 2099.5,869.4 2101.4,893.0 2103.3,878.7 2105.2,884.1 2107.1,876.6 2109.0,889.8 2110.9,865.8 2112.8,888.4 2114.7,875.4 2116.6,889.6 2118.6,877.5 2120.5,890.1 2122.4,868.0 2124.3,888.8 2126.2,877.4 2128.1,883.2 2130.0,867.7 2131.9,887.6 2133.8,862.1 2135.7,889.4 2137.6,879.4 2139.5,874.6 2141.4,874.7 2143.3,878.4 2145.2,871.0 2147.1,891.6 2149.0,866.4 2150.9,878.4 2152.8,872.7 2154.7,875.1 2156.6,872.3 2158.5,880.4 2160.4,874.8 2162.3,877.6 2164.2,868.3 2166.1,882.8 2168.0,862.2"/>
<path stroke="#008000" d="M268.0,1016.9 L269.9,954.8 271.8,1027.1 273.7,965.3 275.6,1009.2 277.5,944.5 279.4,1057.2 281.3,967.2 283.2,1022.0 285.1,961.4 287.0,1029.7 288.9,1068.3 290.8,1023.1 292.7,971.6 294.6,1005.6 296.5,941.6 298.4,1006.3 300.3,957.8 302.2,1032.3 304.1,940.0 306.0,1047.9 307.9,937.5 309.8,1016.4 311.7,979.9 313.6,1039.0 315.5,962.8 317.4,973.9 319.4,937.9 321.3,1009.6 323.2,949.6 325.1,993.1 327.0,937.3 328.9,963.7 330.8,950.7 332.7,987.3 334.6,949.1 336.5,998.8 338.4,931.4 340.3,1006.6 342.2,962.7 344.1,1018.7 346.0,962.4 347.9,1006.0 349.8,933.7 351.7,1053.4 353.6,931.6 355.5,991.1 357.4,971.1 359.3,999.9 361.2,902.2 363.1,1001.4 365.0,936.8 366.9,1005.4 368.8,951.3 370.7,998.7 372.6,949.2 374.5,979.8 376.4,909.9 378.3,985.5 380.2,930.5 382.1,947.7 384.0,928.8 385.9,982.4 387.8,963.3 389.7,1010.0 391.6,951.3 393.5,993.2 395.4,941.5 397.3,985.8 399.2,921.0 401.1,985.1 403.0,911.8 404.9,983.9 406.8,904.3 408.7,940.1 410.6,907.9 412.5,953.9 414.4,959.1 416.3,974.1 418.3,904.4 420.2,941.3 422.1,937.6 424.0,972.9 425.9,890.7 427.8,991.7 429.7,921.4 431.6,977.6 433.5,927.5 435.4,985.0 437.3,938.0 439.2,960.8 441.1,919.6 443.0,957.0 444.9,915.4 446.8,949.2 448.7,885.7 450.6,1009.5 452.5,925.8 454.4,964.9 456.3,980.8 458.2,923.4 460.1,881.7 462.0,943.6 463.9,894.2 465.8,901.2 467.7,890.3 469.6,938.8 471.5,829.8 473.4,941.7 475.3,910.1 477.2,955.0 479.1,907.6 481.0,951.8 482.9,899.9 484.8,946.6 486.7,896.4 488.6,959.5 490.5,871.8 492.4,933.8 494.3,892.1 496.2,943.7 498.1,885.4 500.0,961.1 501.9,881.5 503.8,950.3 505.7,907.6 507.6,949.0 509.5,872.8 511.4,915.7 513.3,903.7 515.2,939.0 517.1,857.8 519.1,923.0 521.0,898.2 522.9,922.7 524.8,894.4 526.7,942.1 528.6,900.9 530.5,908.9 532.4,888.7 534.3,955.5 536.2,863.2 538.1,943.3 540.0,898.4 541.9,949.6 543.8,880.4 545.7,900.0 547.6,865.3 549.5,928.9 551.4,803.4 553.3,937.5 555.2,864.8 557.1,917.8 559.0,857.3 560.9,900.9 562.8,849.0 564.7,951.9 566.6,866.0 568.5,990.0 570.4,834.7 572.3,905.9 574.2,851.4 576.1,881.3 578.0,841.1 579.9,919.5 581.8,851.1 583.7,908.2 585.6,846.9 587.5,870.2 589.4,851.5 591.3,871.8 593.2,862.4 595.1,902.8 597.0,860.7 598.9,909.1 600.8,831.7 602.7,863.6 604.6,842.3 606.5,948.2 608.4,861.5 610.3,877.3 612.2,844.7 614.1,913.9 616.0,818.2 617.9,881.6 619.9,803.8 621.8,867.5 623.7,862.3 625.6,902.2 627.5,837.0 629.4,880.1 631.3,840.4 633.2,892.4 635.1,817.1 637.0,873.4 638.9,832.7 640.8,889.0 642.7,835.0 644.6,874.7 646.5,842.3 648.4,830.9 650.3,804.0 652.2,825.0 654.1,796.0 656.0,811.9 657.9,786.8 659.8,801.5 661.7,800.7 663.6,802.7 665.5,786.1 667.4,792.9 669.3,772.3 671.2,805.0 673.1,768.3 675.0,794.3 676.9,775.1 678.8,790.9 680.7,768.0 682.6,778.6 684.5,753.6 686.4,795.9 688.3,754.9 690.2,770.9 692.1,767.9 694.0,777.2 695.9,756.9 697.8,781.0 699.7,755.1 701.6,765.9 703.5,754.9 705.4,770.5 707.3,739.7 709.2,764.4 711.1,750.7 713.0,762.8 714.9,748.7 716.8,770.6 718.8,756.6 720.7,757.5 722.6,742.5 724.5,736.5 726.4,746.4 728.3,762.3 730.2,736.0 732.1,768.0 734.0,738.0 735.9,757.6 737.8,699.5 739.7,747.0 741.6,721.3 743.5,733.6 745.4,722.2 747.3,756.6 749.2,719.4 751.1,753.3 753.0,703.7 754.9,770.7 756.8,721.9 758.7,742.9 760.6,727.7 762.5,731.7 764.4,718.1 766.3,733.0 768.2,705.5 770.1,728.0 772.0,701.0 773.9,734.8 775.8,710.2 777.7,720.2 779.6,712.3 781.5,722.2 783.4,728.3 785.3,721.1 787.2,690.5 789.1,719.6 791.0,690.4 792.9,696.7 794.8,680.2 796.7,697.2 798.6,672.7 800.5,680.3 802.4,668.7 804.3,692.5 806.2,670.7 808.1,679.4 810.0,664.1 811.9,675.0 813.8,652.0 815.7,678.9 817.6,652.1 819.6,677.6 821.5,646.3 823.4,660.1 825.3,597.9 827.2,662.5 829.1,625.5 831.0,673.5 832.9,624.3 834.8,656.0 836.7,637.0 838.6,662.7 840.5,656.6 842.4,643.5 844.3,616.7 846.2,634.6 848.1,621.4 850.0,649.6 851.9,621.4 853.8,638.4 855.7,641.8 857.6,644.2 859.5,620.2 861.4,621.0 863.3,608.1 865.2,693.0 867.1,593.7 869.0,621.6 870.9,595.1 872.8,615.6 874.7,602.3 876.6,607.5 878.5,594.1 880.4,614.3 882.3,598.8 884.2,614.5 886.1,589.6 888.0,604.9 889.9,613.9 891.8,611.0 893.7,588.8 895.6,608.5 897.5,595.0 899.4,600.0 901.3,585.9 903.2,550.1 905.1,580.4 907.0,597.1 908.9,583.9 910.8,591.9 912.7,542.6 914.6,596.9 916.5,573.2 918.5,602.1 920.4,568.3 922.3,582.8 924.2,567.5 926.1,573.1 928.0,557.0 929.9,574.2 931.8,554.7 933.7,569.2 935.6,555.2 937.5,557.8 939.4,548.2 941.3,555.0 943.2,539.4 945.1,557.3 947.0,536.4 948.9,547.1 950.8,534.0 952.7,549.1 954.6,554.4 956.5,519.0 958.4,533.0 960.3,535.2 962.2,523.6 964.1,534.8 966.0,521.1 967.9,533.1 969.8,514.7 971.7,532.4 973.6,518.9 975.5,527.9 977.4,510.9 979.3,521.6 981.2,497.1 983.1,512.5 985.0,498.2 986.9,502.6 988.8,483.0 990.7,503.3 992.6,488.7 994.5,501.8 996.4,469.7 998.3,482.5 1000.2,479.4 1002.1,495.5 1004.0,463.1 1005.9,483.4 1007.8,457.9 1009.7,485.6 1011.6,454.9 1013.5,467.8 1015.4,460.2 1017.3,462.9 1019.3,442.5 1021.2,464.8 1023.1,438.9 1025.0,465.5 1026.9,433.4 1028.8,445.8 1030.7,429.5 1032.6,436.9 1034.5,419.2 1036.4,432.9 1038.3,419.9 1040.2,430.3 1042.1,400.1 1044.0,429.4 1045.9,411.0 1047.8,422.2 1049.7,406.6 1051.6,414.4 1053.5,408.5 1055.4,420.5 1057.3,399.1 1059.2,411.2 1061.1,404.3 1063.0,410.0 1064.9,389.4 1066.8,403.7 1068.7,384.1 1070.6,394.0 1072.5,385.5 1074.4,380.4 1076.3,384.5 1078.2,387.0 1080.1,368.3 1082.0,386.9 1083.9,367.7 1085.8,373.2 1087.7,367.6 1089.6,369.3 1091.5,352.9 1093.4,372.0 1095.3,352.8 1097.2,368.4 1099.1,351.3 1101.0,367.7 1102.9,354.0 1104.8,361.3 1106.7,378.2 1108.6,357.3 1110.5,348.9 1112.4,354.4 1114.3,341.0 1116.2,352.2 1118.2,342.3 1120.1,347.2 1122.0,326.9 1123.9,343.0 1125.8,329.0 1127.7,340.2 1129.6,329.6 1131.5,338.6 1133.4,325.9 1135.3,337.5 1137.2,319.7 1139.1,338.7 1141.0,323.6 1142.9,322.6 1144.8,300.1 1146.7,338.6 1148.6,319.8 1150.5,319.1 1152.4,297.2 1154.3,323.4 1156.2,282.1 1158.1,309.3 1160.0,289.0 1161.9,304.1 1163.8,285.6 1165.7,299.7 1167.6,292.5 1169.5,325.6 1171.4,287.8 1173.3,295.1 1175.2,280.8 1177.1,296.2 1179.0,281.4 1180.9,284.3 1182.8,277.0 1184.7,281.5 1186.6,272.9 1188.5,286.1 1190.4,260.2 1192.3,281.8 1194.2,269.0 1196.1,279.7 1198.0,259.4 1199.9,268.2 1201.8,251.1 1203.7,261.4 1205.6,255.1 1207.5,262.0 1209.4,251.5 1211.3,259.0 1213.2,240.5 1215.1,256.6 1217.0,233.7 1219.0,245.2 1220.9,225.8 1222.8,242.1 1224.7,224.2 1226.6,248.1 1228.5,220.8 1230.4,229.2 1232.3,219.5 1234.2,235.1 1236.1,215.6 1238.0,233.5 1239.9,212.4 1241.8,233.9 1243.7,215.8 1245.6,197.4 1247.5,201.0 1249.4,218.8 1251.3,209.1 1253.2,216.8 1255.1,206.1 1257.0,210.1 1258.9,201.3 1260.8,206.0 1262.7,200.0 1264.6,207.6 1266.5,222.6 1268.4,209.0 1270.3,192.3 1272.2,198.1 1274.1,192.8 1276.0,173.2 1277.9,188.9 1279.8,203.6 1281.7,190.3 1283.6,186.9 1285.5,183.7 1287.4,194.5 1289.3,183.8 1291.2,189.9 1293.1,189.4 1295.0,193.7 1296.9,179.0 1298.8,195.5 1300.7,175.5 1302.6,195.5 1304.5,183.9 1306.4,191.1 1308.3,183.9 1310.2,183.1 1312.1,170.4 1314.0,194.6 1315.9,171.1 1317.8,193.7 1319.8,167.2 1321.7,188.7 1323.6,165.4 1325.5,188.7 1327.4,164.0 1329.3,191.2 1331.2,170.6 1333.1,193.6 1335.0,168.9 1336.9,192.1 1338.8,175.1 1340.7,180.8 1342.6,157.4 1344.5,192.8 1346.4,217.1 1348.3,182.5 1350.2,164.9 1352.1,185.3 1354.0,155.6 1355.9,189.6 1357.8,157.4 1359.7,185.1 1361.6,158.7 1363.5,204.2 1365.4,191.5 1367.3,188.0 1369.2,162.9 1371.1,183.5 1373.0,149.1 1374.9,172.7 1376.8,167.7 1378.7,185.8 1380.6,166.7 1382.5,180.6 1384.4,169.6 1386.3,172.9 1388.2,167.1 1390.1,179.0 1392.0,157.3 1393.9,174.6 1395.8,169.6 1397.7,171.8 1399.6,160.3 1401.5,178.9 1403.4,167.6 1405.3,174.4 1407.2,163.1 1409.1,169.8 1411.0,158.8 1412.9,170.4 1414.8,159.5 1416.7,174.6 1418.7,163.0 1420.6,170.3 1422.5,163.6 1424.4,166.7 1426.3,161.7 1428.2,167.6 1430.1,159.3 1432.0,163.9 1433.9,162.3 1435.8,173.1 1437.7,160.9 1439.6,164.4 1441.5,160.6 1443.4,174.9 1445.3,160.8 1447.2,164.4 1449.1,161.0 1451.0,168.7 1452.9,173.7 1454.8,170.3 1456.7,160.2 1458.6,166.3 1460.5,155.8 1462.4,169.8 1464.3,164.5 1466.2,170.7 1468.1,156.2 1470.0,167.4 1471.9,159.8 1473.8,166.7 1475.7,162.7 1477.6,167.7 1479.5,160.9 1481.4,169.5 1483.3,156.4 1485.2,165.7 1487.1,157.0 1489.0,168.9 1490.9,159.4 1492.8,169.4 1494.7,162.1 1496.6,172.2 1498.5,163.9 1500.4,168.4 1502.3,163.6 1504.2,172.8 1506.1,167.9 1508.0,175.4 1509.9,170.9 1511.8,173.9 1513.7,149.1 1515.6,184.1 1517.5,170.4 1519.5,193.2 1521.4,168.0 1523.3,184.9 1525.2,178.9 1527.1,176.7 1529.0,183.9 1530.9,181.9 1532.8,173.2 1534.7,182.0 1536.6,173.3 1538.5,179.3 1540.4,170.9 1542.3,184.5 1544.2,172.7 1546.1,191.2 1548.0,179.8 1549.9,195.5 1551.8,182.8 1553.7,189.2 1555.6,186.6 1557.5,194.8 1559.4,190.0 1561.3,198.5 1563.2,190.6 1565.1,200.3 1567.0,187.2 1568.9,201.7 1570.8,192.1 1572.7,202.8 1574.6,196.6 1576.5,199.7 1578.4,193.2 1580.3,211.2 1582.2,197.7 1584.1,210.5 1586.0,199.4 1587.9,209.1 1589.8,201.1 1591.7,219.5 1593.6,187.3 1595.5,209.7 1597.4,201.7 1599.3,208.1 1601.2,195.7 1603.1,209.5 1605.0,209.2 1606.9,223.3 1608.8,206.4 1610.7,221.1 1612.6,212.9 1614.5,221.1 1616.4,222.1 1618.4,222.1 1620.3,222.7 1622.2,221.7 1624.1,226.2 1626.0,234.1 1627.9,228.8 1629.8,232.7 1631.7,230.4 1633.6,237.1 1635.5,230.0 1637.4,246.4 1639.3,238.8 1641.2,243.6 1643.1,233.2 1645.0,245.3 1646.9,237.7 1648.8,246.9 1650.7,222.8 1652.6,247.4 1654.5,231.9 1656.4,248.8 1658.3,249.5 1660.2,253.1 1662.1,236.5 1664.0,247.4 1665.9,235.5 1667.8,251.0 1669.7,236.8 1671.6,252.0 1673.5,241.9 1675.4,254.2 1677.3,245.9 1679.2,260.6 1681.1,251.5 1683.0,254.4 1684.9,255.4 1686.8,263.4 1688.7,252.7 1690.6,265.1 1692.5,261.7 1694.4,284.1 1696.3,258.2 1698.2,273.9 1700.1,266.8 1702.0,275.1 1703.9,263.3 1705.8,281.2 1707.7,276.1 1709.6,282.3 1711.5,268.7 1713.4,278.6 1715.3,272.8 1717.2,286.5 1719.2,276.3 1721.1,285.9 1723.0,282.1 1724.9,143.0 1726.8,283.2 1728.7,292.9 1730.6,289.2 1732.5,296.6 1734.4,282.3 1736.3,294.9 1738.2,287.0 1740.1,299.7 1742.0,282.9 1743.9,305.2 1745.8,295.5 1747.7,306.2 1749.6,291.8 1751.5,305.6 1753.4,300.3 1755.3,307.3 1757.2,295.7 1759.1,311.5 1761.0,297.7 1762.9,311.5 1764.8,330.5 1766.7,312.2 1768.6,303.7 1770.5,333.7 1772.4,310.0 1774.3,319.3 1776.2,309.3 1778.1,329.9 1780.0,315.7 1781.9,332.8 1783.8,319.3 1785.7,329.7 1787.6,319.8 1789.5,331.8 1791.4,323.3 1793.3,337.5 1795.2,328.2 1797.1,346.4 1799.0,337.3 1800.9,343.4 1802.8,338.8 1804.7,348.3 1806.6,336.1 1808.5,355.3 1810.4,347.8 1812.3,358.1 1814.2,345.3 1816.1,370.1 1818.1,361.2 1820.0,378.5 1821.9,356.8 1823.8,382.4 1825.7,368.3 1827.6,399.4 1829.5,367.9 1831.4,385.3 1833.3,371.9 1835.2,384.6 1837.1,386.0 1839.0,396.7 1840.9,375.2 1842.8,392.8 1844.7,390.1 1846.6,397.8 1848.5,388.0 1850.4,394.3 1852.3,387.2 1854.2,411.0 1856.1,389.0 1858.0,406.5 1859.9,387.3 1861.8,409.3 1863.7,403.8 1865.6,416.9 1867.5,407.3 1869.4,422.5 1871.3,399.9 1873.2,431.3 1875.1,421.8 1877.0,452.5 1878.9,417.7 1880.8,438.5 1882.7,390.3 1884.6,439.0 1886.5,425.5 1888.4,439.2 1890.3,424.5 1892.2,426.6 1894.1,433.9 1896.0,448.9 1897.9,435.0 1899.8,443.8 1901.7,421.3 1903.6,450.6 1905.5,441.0 1907.4,448.1 1909.3,440.9 1911.2,459.9 1913.1,456.0 1915.0,464.3 1916.9,462.5 1918.9,463.7 1920.8,448.1 1922.7,471.0 1924.6,459.4 1926.5,471.5 1928.4,451.4 1930.3,454.6 1932.2,457.1 1934.1,474.0 1936.0,493.4 1937.9,467.7 1939.8,465.2 1941.7,480.8 1943.6,468.4 1945.5,482.3 1947.4,464.1 1949.3,479.4 1951.2,473.9 1953.1,483.6 1955.0,475.5 1956.9,488.5 1958.8,482.1 1960.7,488.0 1962.6,478.4 1964.5,493.0 1966.4,485.5 1968.3,493.9 1970.2,479.0 1972.1,493.2 1974.0,481.2 1975.9,494.7 1977.8,482.7 1979.7,504.3 1981.6,487.9 1983.5,493.0 1985.4,480.9 1987.3,493.6 1989.2,489.9 1991.1,497.8 1993.0,492.5 1994.9,497.8 1996.8,488.1 1998.7,503.8 2000.6,495.5 2002.5,507.8 2004.4,505.3 2006.3,509.0 2008.2,499.1 2010.1,516.4 2012.0,502.4 2013.9,512.1 2015.8,499.8 2017.7,531.1 2019.7,508.8 2021.6,517.1 2023.5,511.0 2025.4,519.8 2027.3,512.1 2029.2,520.6 2031.1,510.9 2033.0,524.5 2034.9,510.3 2036.8,528.7 2038.7,516.7 2040.6,521.8 2042.5,512.7 2044.4,524.1 2046.3,515.6 2048.2,525.3 2050.1,519.5 2052.0,530.5 2053.9,518.4 2055.8,526.2 2057.7,518.2 2059.6,529.4 2061.5,517.0 2063.4,515.9 2065.3,522.0 2067.2,530.3 2069.1,524.5 2071.0,529.5 2072.9,531.5 2074.8,532.8 2076.7,528.4 2078.6,539.7 2080.5,524.9 2082.4,542.2 2084.3,528.0 2086.2,536.5 2088.1,530.2 2090.0,538.3 2091.9,530.0 2093.8,549.0 2095.7,534.1 2097.6,546.4 2099.5,532.3 2101.4,545.4 2103.3,537.0 2105.2,544.9 2107.1,540.5 2109.0,549.2 2110.9,541.4 2112.8,550.6 2114.7,542.2 2116.6,556.6 2118.6,542.2 2120.5,555.3 2122.4,544.7 2124.3,560.8 2126.2,550.3 2128.1,565.1 2130.0,551.9 2131.9,563.3 2133.8,547.5 2135.7,561.0 2137.6,547.5 2139.5,569.9 2141.4,551.2 2143.3,567.9 2145.2,555.6 2147.1,572.7 2149.0,559.0 2150.9,574.4 2152.8,555.2 2154.7,571.4 2156.6,564.4 2158.5,573.5 2160.4,561.6 2162.3,571.4 2164.2,558.0 2166.1,574.5 2168.0,564.6"/>
<path stroke="#ffb300" d="M268.0,1173.2 L269.9,1057.7 271.8,1155.8 273.7,1056.8 275.6,1099.7 277.5,1092.6 279.4,1144.4 281.3,1081.8 283.2,1125.6 285.1,1015.0 287.0,1156.4 288.9,1012.0 290.8,1111.0 292.7,1027.9 294.6,1137.2 296.5,1067.0 298.4,1145.8 300.3,1014.2 302.2,1119.4 304.1,1015.0 306.0,1131.4 307.9,1026.4 309.8,1098.9 311.7,1053.3 313.6,1203.7 315.5,1051.2 317.4,1122.1 319.4,1050.7 321.3,1102.8 323.2,1076.6 325.1,1111.6 327.0,1079.1 328.9,1119.8 330.8,1048.4 332.7,1092.4 334.6,1039.0 336.5,1120.2 338.4,1051.3 340.3,1106.3 342.2,1071.3 344.1,1103.4 346.0,1053.9 347.9,1082.3 349.8,1049.4 351.7,1066.1 353.6,1052.2 355.5,1083.7 357.4,1069.9 359.3,1088.6 361.2,1101.1 363.1,1096.5 365.0,1117.2 366.9,1107.8 368.8,1043.8 370.7,1082.7 372.6,1018.3 374.5,1087.5 376.4,1026.5 378.3,1165.7 380.2,1038.2 382.1,1093.0 384.0,1023.7 385.9,1111.8 387.8,1048.2 389.7,1093.7 391.6,1030.9 393.5,1058.5 395.4,1042.4 397.3,1081.2 399.2,1031.8 401.1,1066.8 403.0,1074.7 404.9,1086.3 406.8,1043.8 408.7,1077.5 410.6,1030.5 412.5,1078.4 414.4,1047.7 416.3,1094.2 418.3,1031.4 420.2,1076.4 422.1,1040.3 424.0,1094.9 425.9,1026.2 427.8,1088.6 429.7,1051.3 431.6,1081.2 433.5,1024.4 435.4,1089.5 437.3,1045.8 439.2,1086.4 441.1,1118.6 443.0,1094.5 444.9,1041.4 446.8,1058.2 448.7,1174.0 450.6,1103.0 452.5,1037.5 454.4,1080.0 456.3,1048.3 458.2,1062.0 460.1,1048.1 462.0,1090.1 463.9,1031.9 465.8,1082.3 467.7,1025.9 469.6,1057.3 471.5,1036.1 473.4,1051.1 475.3,1007.2 477.2,1058.0 479.1,1023.7 481.0,1080.8 482.9,1006.2 484.8,1113.8 486.7,993.4 488.6,1061.4 490.5,1045.6 492.4,1092.9 494.3,995.8 496.2,1068.4 498.1,1016.6 500.0,997.0 501.9,1013.8 503.8,1048.3 505.7,1024.4 507.6,1077.7 509.5,1069.9 511.4,1049.2 513.3,1015.3 515.2,1075.1 517.1,977.7 519.1,1060.6 521.0,992.9 522.9,1053.8 524.8,988.9 526.7,1017.6 528.6,995.4 530.5,1031.7 532.4,998.2 534.3,974.0 536.2,972.4 538.1,1014.7 540.0,994.8 541.9,1027.7 543.8,963.3 545.7,1050.3 547.6,988.1 549.5,1069.3 551.4,971.2 553.3,1025.5 555.2,975.4 557.1,1026.0 559.0,950.0 560.9,1046.0 562.8,969.2 564.7,1091.4 566.6,966.6 568.5,1045.9 570.4,972.7 572.3,1014.2 574.2,1027.3 576.1,987.0 578.0,952.8 579.9,977.3 581.8,945.3 583.7,951.6 585.6,917.0 587.5,978.9 589.4,924.6 591.3,960.9 593.2,922.7 595.1,963.6 597.0,945.6 598.9,959.6 600.8,924.0 602.7,958.6 604.6,918.9 606.5,953.9 608.4,922.6 610.3,967.2 612.2,926.9 614.1,965.6 616.0,929.6 617.9,974.9 619.9,939.0 621.8,968.5 623.7,972.3 625.6,955.7 627.5,935.1 629.4,966.7 631.3,934.5 633.2,956.5 635.1,940.0 637.0,969.2 638.9,943.2 640.8,960.1 642.7,937.8 644.6,958.4 646.5,911.0 648.4,962.5 650.3,922.5 652.2,968.4 654.1,916.3 656.0,943.7 657.9,901.4 659.8,932.6 661.7,876.9 663.6,937.4 665.5,873.2 667.4,907.1 669.3,873.7 671.2,914.5 673.1,874.7 675.0,920.4 676.9,881.2 678.8,916.7 680.7,879.4 682.6,900.6 684.5,869.3 686.4,908.0 688.3,886.2 690.2,929.1 692.1,878.1 694.0,923.2 695.9,854.1 697.8,932.2 699.7,853.6 701.6,918.9 703.5,893.1 705.4,917.7 707.3,862.3 709.2,906.2 711.1,853.0 713.0,884.1 714.9,891.0 716.8,893.9 718.8,861.0 720.7,913.1 722.6,858.1 724.5,881.8 726.4,829.5 728.3,886.4 730.2,857.4 732.1,864.1 734.0,848.9 735.9,865.8 737.8,882.8 739.7,891.8 741.6,829.1 743.5,884.6 745.4,838.2 747.3,875.6 749.2,823.9 751.1,853.8 753.0,823.8 754.9,866.7 756.8,836.0 758.7,874.1 760.6,837.7 762.5,861.5 764.4,840.3 766.3,842.4 768.2,815.1 770.1,871.5 772.0,804.6 773.9,847.0 775.8,824.1 777.7,841.7 779.6,817.5 781.5,851.5 783.4,806.3 785.3,870.1 787.2,807.6 789.1,825.8 791.0,782.5 792.9,819.4 794.8,788.2 796.7,819.1 798.6,791.5 800.5,846.0 802.4,795.4 804.3,806.0 806.2,786.0 808.1,808.3 810.0,774.9 811.9,834.6 813.8,766.8 815.7,801.4 817.6,766.2 819.6,812.2 821.5,774.9 823.4,815.0 825.3,765.7 827.2,786.9 829.1,769.4 831.0,805.5 832.9,767.7 834.8,774.0 836.7,755.1 838.6,843.8 840.5,762.8 842.4,800.9 844.3,758.3 846.2,807.7 848.1,746.1 850.0,771.8 851.9,729.8 853.8,780.6 855.7,743.4 857.6,784.6 859.5,724.7 861.4,808.6 863.3,750.3 865.2,759.5 867.1,738.4 869.0,761.9 870.9,759.2 872.8,748.4 874.7,722.1 876.6,741.2 878.5,725.2 880.4,747.2 882.3,715.9 884.2,763.4 886.1,711.3 888.0,743.3 889.9,735.0 891.8,739.3 893.7,708.4 895.6,714.3 897.5,705.1 899.4,720.9 901.3,689.8 903.2,718.3 905.1,706.9 907.0,713.3 908.9,689.7 910.8,713.6 912.7,689.5 914.6,704.2 916.5,681.5 918.5,709.8 920.4,672.9 922.3,700.4 924.2,681.8 926.1,714.3 928.0,688.2 929.9,700.0 931.8,715.5 933.7,690.4 935.6,660.7 937.5,748.1 939.4,700.2 941.3,690.1 943.2,660.1 945.1,701.4 947.0,649.0 948.9,681.8 950.8,650.3 952.7,688.4 954.6,627.8 956.5,670.0 958.4,644.2 960.3,664.9 962.2,630.2 964.1,654.2 966.0,617.3 967.9,660.0 969.8,617.5 971.7,657.6 973.6,629.0 975.5,639.9 977.4,610.4 979.3,634.4 981.2,630.4 983.1,621.7 985.0,604.2 986.9,629.0 988.8,609.0 990.7,622.5 992.6,598.9 994.5,604.8 996.4,621.0 998.3,602.9 1000.2,571.5 1002.1,595.5 1004.0,571.0 1005.9,566.7 1007.8,555.3 1009.7,583.8 1011.6,564.7 1013.5,600.9 1015.4,538.8 1017.3,579.5 1019.3,568.2 1021.2,574.5 1023.1,540.0 1025.0,585.0 1026.9,527.8 1028.8,563.3 1030.7,594.9 1032.6,572.3 1034.5,521.1 1036.4,570.3 1038.3,537.8 1040.2,561.1 1042.1,510.3 1044.0,592.7 1045.9,514.1 1047.8,586.9 1049.7,532.1 1051.6,551.7 1053.5,522.2 1055.4,562.0 1057.3,496.8 1059.2,540.5 1061.1,522.7 1063.0,548.0 1064.9,502.7 1066.8,540.3 1068.7,576.7 1070.6,512.2 1072.5,510.9 1074.4,540.8 1076.3,490.1 1078.2,546.0 1080.1,462.2 1082.0,538.4 1083.9,474.1 1085.8,520.0 1087.7,380.0 1089.6,523.0 1091.5,473.2 1093.4,507.7 1095.3,470.7 1097.2,442.7 1099.1,464.8 1101.0,440.0 1102.9,465.5 1104.8,482.3 1106.7,454.3 1108.6,504.9 1110.5,453.8 1112.4,484.0 1114.3,439.7 1116.2,498.4 1118.2,468.7 1120.1,475.9 1122.0,458.9 1123.9,498.5 1125.8,424.9 1127.7,479.3 1129.6,437.4 1131.5,473.1 1133.4,438.5 1135.3,471.1 1137.2,450.1 1139.1,460.8 1141.0,430.0 1142.9,451.2 1144.8,403.6 1146.7,442.0 1148.6,411.9 1150.5,448.0 1152.4,397.7 1154.3,456.1 1156.2,388.6 1158.1,441.1 1160.0,388.7 1161.9,437.1 1163.8,396.3 1165.7,428.5 1167.6,384.6 1169.5,427.2 1171.4,386.2 1173.3,424.5 1175.2,385.6 1177.1,417.2 1179.0,379.0 1180.9,411.7 1182.8,383.5 1184.7,398.7 1186.6,371.3 1188.5,406.0 1190.4,369.7 1192.3,460.7 1194.2,355.4 1196.1,416.5 1198.0,379.0 1199.9,385.5 1201.8,351.3 1203.7,397.6 1205.6,361.8 1207.5,409.1 1209.4,379.2 1211.3,406.3 1213.2,378.0 1215.1,407.7 1217.0,366.8 1219.0,388.5 1220.9,366.8 1222.8,400.1 1224.7,355.9 1226.6,379.8 1228.5,371.6 1230.4,411.1 1232.3,354.7 1234.2,380.8 1236.1,343.5 1238.0,379.4 1239.9,352.2 1241.8,361.4 1243.7,350.0 1245.6,363.5 1247.5,358.0 1249.4,384.1 1251.3,335.4 1253.2,368.0 1255.1,330.8 1257.0,378.4 1258.9,336.0 1260.8,346.4 1262.7,348.2 1264.6,374.2 1266.5,323.9 1268.4,347.9 1270.3,327.9 1272.2,373.4 1274.1,316.7 1276.0,362.2 1277.9,324.6 1279.8,347.4 1281.7,354.0 1283.6,351.2 1285.5,319.5 1287.4,343.5 1289.3,320.4 1291.2,364.3 1293.1,316.5 1295.0,348.1 1296.9,319.3 1298.8,335.8 1300.7,325.1 1302.6,343.8 1304.5,314.0 1306.4,328.8 1308.3,303.8 1310.2,330.1 1312.1,309.1 1314.0,338.1 1315.9,309.5 1317.8,330.7 1319.8,300.2 1321.7,324.3 1323.6,309.5 1325.5,339.5 1327.4,297.5 1329.3,331.6 1331.2,309.2 1333.1,326.9 1335.0,299.1 1336.9,337.9 1338.8,305.4 1340.7,329.0 1342.6,339.1 1344.5,330.6 1346.4,309.9 1348.3,327.5 1350.2,303.1 1352.1,327.0 1354.0,300.4 1355.9,325.4 1357.8,304.1 1359.7,372.1 1361.6,300.2 1363.5,336.5 1365.4,307.8 1367.3,335.3 1369.2,303.8 1371.1,345.9 1373.0,298.8 1374.9,332.6 1376.8,290.0 1378.7,339.9 1380.6,307.8 1382.5,380.0 1384.4,293.0 1386.3,365.7 1388.2,298.6 1390.1,344.6 1392.0,310.0 1393.9,339.2 1395.8,320.2 1397.7,326.8 1399.6,298.9 1401.5,320.1 1403.4,316.5 1405.3,326.7 1407.2,286.6 1409.1,342.2 1411.0,317.5 1412.9,323.5 1414.8,322.6 1416.7,389.0 1418.7,300.2 1420.6,342.4 1422.5,319.7 1424.4,335.8 1426.3,299.7 1428.2,343.5 1430.1,298.0 1432.0,338.8 1433.9,322.9 1435.8,343.5 1437.7,314.7 1439.6,336.4 1441.5,344.2 1443.4,337.7 1445.3,318.4 1447.2,348.1 1449.1,312.7 1451.0,345.8 1452.9,305.1 1454.8,347.4 1456.7,331.4 1458.6,342.9 1460.5,326.5 1462.4,351.8 1464.3,328.3 1466.2,345.1 1468.1,328.0 1470.0,350.9 1471.9,333.3 1473.8,354.2 1475.7,325.6 1477.6,380.6 1479.5,328.9 1481.4,350.4 1483.3,339.0 1485.2,376.2 1487.1,344.1 1489.0,359.7 1490.9,336.2 1492.8,370.7 1494.7,333.3 1496.6,364.1 1498.5,350.5 1500.4,375.4 1502.3,335.6 1504.2,367.4 1506.1,347.5 1508.0,361.9 1509.9,341.8 1511.8,367.4 1513.7,358.0 1515.6,378.1 1517.5,370.5 1519.5,372.4 1521.4,355.8 1523.3,381.4 1525.2,369.7 1527.1,374.3 1529.0,365.3 1530.9,380.7 1532.8,366.6 1534.7,396.7 1536.6,371.6 1538.5,392.9 1540.4,368.9 1542.3,395.9 1544.2,372.3 1546.1,401.9 1548.0,371.2 1549.9,396.4 1551.8,397.0 1553.7,402.8 1555.6,376.7 1557.5,406.2 1559.4,363.1 1561.3,401.7 1563.2,371.4 1565.1,397.4 1567.0,370.7 1568.9,405.0 1570.8,435.3 1572.7,403.4 1574.6,383.3 1576.5,403.8 1578.4,396.9 1580.3,415.0 1582.2,377.1 1584.1,413.4 1586.0,383.4 1587.9,447.7 1589.8,385.3 1591.7,413.0 1593.6,389.3 1595.5,402.2 1597.4,397.4 1599.3,414.8 1601.2,396.7 1603.1,424.3 1605.0,397.1 1606.9,425.4 1608.8,403.6 1610.7,433.8 1612.6,392.7 1614.5,475.2 1616.4,409.5 1618.4,435.8 1620.3,415.1 1622.2,453.1 1624.1,416.2 1626.0,441.9 1627.9,411.0 1629.8,439.7 1631.7,422.8 1633.6,461.2 1635.5,412.1 1637.4,463.3 1639.3,406.8 1641.2,452.3 1643.1,428.6 1645.0,469.5 1646.9,421.1 1648.8,474.2 1650.7,429.3 1652.6,497.1 1654.5,424.9 1656.4,487.3 1658.3,445.0 1660.2,462.8 1662.1,434.2 1664.0,475.8 1665.9,434.1 1667.8,463.7 1669.7,431.5 1671.6,485.9 1673.5,434.1 1675.4,466.8 1677.3,438.1 1679.2,465.3 1681.1,448.0 1683.0,458.1 1684.9,444.3 1686.8,477.0 1688.7,444.8 1690.6,470.5 1692.5,460.8 1694.4,496.0 1696.3,450.8 1698.2,471.2 1700.1,450.4 1702.0,487.7 1703.9,478.0 1705.8,481.7 1707.7,471.8 1709.6,487.7 1711.5,465.3 1713.4,485.9 1715.3,459.0 1717.2,492.9 1719.2,465.7 1721.1,482.3 1723.0,466.8 1724.9,490.1 1726.8,493.7 1728.7,500.1 1730.6,471.6 1732.5,498.8 1734.4,476.9 1736.3,505.5 1738.2,486.7 1740.1,504.5 1742.0,489.9 1743.9,492.5 1745.8,490.3 1747.7,499.6 1749.6,492.3 1751.5,513.1 1753.4,519.7 1755.3,514.4 1757.2,493.5 1759.1,505.0 1761.0,490.2 1762.9,503.0 1764.8,495.0 1766.7,510.3 1768.6,494.3 1770.5,514.4 1772.4,498.8 1774.3,521.7 1776.2,501.4 1778.1,550.4 1780.0,503.6 1781.9,519.6 1783.8,510.7 1785.7,527.5 1787.6,511.5 1789.5,540.4 1791.4,525.3 1793.3,540.4 1795.2,513.3 1797.1,528.6 1799.0,520.2 1800.9,536.1 1802.8,519.7 1804.7,547.9 1806.6,515.0 1808.5,545.6 1810.4,526.9 1812.3,551.5 1814.2,540.0 1816.1,552.4 1818.1,536.3 1820.0,566.2 1821.9,540.5 1823.8,565.3 1825.7,551.1 1827.6,599.4 1829.5,543.7 1831.4,577.6 1833.3,543.0 1835.2,580.3 1837.1,546.8 1839.0,562.9 1840.9,562.2 1842.8,568.1 1844.7,555.1 1846.6,602.2 1848.5,565.9 1850.4,579.0 1852.3,555.1 1854.2,578.8 1856.1,564.5 1858.0,584.9 1859.9,562.6 1861.8,594.8 1863.7,566.5 1865.6,589.9 1867.5,574.6 1869.4,589.1 1871.3,582.6 1873.2,599.5 1875.1,566.7 1877.0,597.1 1878.9,589.5 1880.8,596.1 1882.7,591.9 1884.6,611.5 1886.5,574.8 1888.4,585.7 1890.3,585.6 1892.2,607.2 1894.1,595.8 1896.0,612.2 1897.9,601.8 1899.8,609.9 1901.7,591.1 1903.6,595.7 1905.5,600.0 1907.4,616.6 1909.3,590.4 1911.2,625.6 1913.1,589.1 1915.0,630.4 1916.9,601.8 1918.9,622.1 1920.8,606.0 1922.7,626.0 1924.6,616.1 1926.5,629.2 1928.4,620.2 1930.3,633.5 1932.2,604.7 1934.1,634.6 1936.0,621.9 1937.9,641.7 1939.8,636.3 1941.7,623.2 1943.6,608.9 1945.5,646.0 1947.4,622.5 1949.3,652.0 1951.2,622.6 1953.1,649.5 1955.0,627.1 1956.9,653.7 1958.8,628.2 1960.7,689.0 1962.6,625.1 1964.5,656.0 1966.4,641.2 1968.3,661.1 1970.2,639.6 1972.1,653.1 1974.0,635.1 1975.9,659.7 1977.8,631.7 1979.7,669.5 1981.6,632.8 1983.5,663.4 1985.4,643.4 1987.3,662.4 1989.2,645.1 1991.1,667.1 1993.0,645.7 1994.9,652.0 1996.8,640.1 1998.7,665.3 2000.6,649.6 2002.5,661.7 2004.4,650.8 2006.3,680.1 2008.2,644.9 2010.1,669.6 2012.0,641.7 2013.9,673.6 2015.8,656.3 2017.7,670.1 2019.7,654.7 2021.6,693.8 2023.5,650.6 2025.4,675.8 2027.3,651.1 2029.2,750.0 2031.1,650.0 2033.0,686.3 2034.9,652.6 2036.8,691.2 2038.7,658.0 2040.6,694.0 2042.5,677.1 2044.4,696.4 2046.3,672.2 2048.2,683.4 2050.1,656.2 2052.0,690.0 2053.9,669.1 2055.8,697.5 2057.7,659.3 2059.6,723.6 2061.5,683.2 2063.4,695.2 2065.3,677.1 2067.2,685.3 2069.1,663.2 2071.0,693.2 2072.9,669.7 2074.8,699.0 2076.7,677.8 2078.6,708.6 2080.5,677.6 2082.4,704.6 2084.3,706.2 2086.2,712.7 2088.1,673.6 2090.0,714.1 2091.9,687.0 2093.8,713.1 2095.7,687.7 2097.6,710.3 2099.5,696.6 2101.4,714.9 2103.3,692.8 2105.2,708.9 2107.1,685.7 2109.0,721.0 2110.9,698.5 2112.8,724.6 2114.7,756.0 2116.6,700.8 2118.6,696.2 2120.5,728.1 2122.4,688.2 2124.3,715.2 2126.2,699.9 2128.1,740.4 2130.0,692.3 2131.9,716.9 2133.8,690.1 2135.7,717.7 2137.6,698.5 2139.5,754.3 2141.4,715.4 2143.3,722.6 2145.2,707.0 2147.1,716.8 2149.0,710.6 2150.9,727.5 2152.8,703.1 2154.7,737.7 2156.6,713.3 2158.5,733.1 2160.4,710.4 2162.3,731.8 2164.2,706.7 2166.1,720.5 2168.0,709.0"/>
<path stroke="#ff00ff" d="M268.0,1073.3 L269.9,975.6 271.8,1125.7 273.7,1014.8 275.6,1081.3 277.5,1032.0 279.4,1121.0 281.3,1055.5 283.2,1119.1 285.1,1019.1 287.0,1104.4 288.9,1061.6 290.8,1099.0 292.7,1026.8 294.6,1095.0 296.5,1023.9 298.4,1117.7 300.3,1033.8 302.2,1060.3 304.1,1071.5 306.0,1113.4 307.9,1084.2 309.8,1118.0 311.7,1061.4 313.6,1112.2 315.5,1016.6 317.4,1078.4 319.4,1049.8 321.3,1113.7 323.2,1087.4 325.1,1111.5 327.0,1068.6 328.9,1118.9 330.8,1063.9 332.7,1160.0 334.6,1051.2 336.5,1118.2 338.4,1071.5 340.3,1103.0 342.2,1113.3 344.1,1202.0 346.0,1050.4 347.9,1091.3 349.8,1073.5 351.7,1112.8 353.6,1120.9 355.5,1120.3 357.4,1062.5 359.3,1076.7 361.2,1034.8 363.1,1074.9 365.0,1034.1 366.9,1109.0 368.8,1084.2 370.7,1093.9 372.6,1020.3 374.5,1094.0 376.4,1062.8 378.3,1095.7 380.2,1032.1 382.1,1088.6 384.0,1053.9 385.9,1066.6 387.8,1031.5 389.7,1095.5 391.6,1057.9 393.5,1095.1 395.4,1061.1 397.3,1077.1 399.2,1063.5 401.1,1146.6 403.0,1028.8 404.9,1068.4 406.8,1040.4 408.7,1091.9 410.6,1046.1 412.5,1094.9 414.4,1054.6 416.3,1132.5 418.3,1046.6 420.2,1084.7 422.1,1039.6 424.0,1093.1 425.9,1042.6 427.8,1096.9 429.7,1037.2 431.6,1155.2 433.5,1046.2 435.4,1123.4 437.3,1043.9 439.2,1097.5 441.1,1062.7 443.0,1099.2 444.9,1038.0 446.8,1107.3 448.7,1048.7 450.6,1094.5 452.5,1067.7 454.4,1108.4 456.3,1058.5 458.2,1109.1 460.1,1027.5 462.0,1087.7 463.9,1033.4 465.8,1188.7 467.7,1066.9 469.6,1097.1 471.5,1062.4 473.4,1080.8 475.3,1035.1 477.2,1100.8 479.1,1053.2 481.0,1082.1 482.9,1057.5 484.8,1094.7 486.7,1010.8 488.6,1143.0 490.5,1000.3 492.4,1092.9 494.3,1014.1 496.2,1105.7 498.1,1127.4 500.0,1114.3 501.9,1024.6 503.8,1109.8 505.7,1034.8 507.6,1106.3 509.5,1026.7 511.4,1094.2 513.3,1028.6 515.2,1078.7 517.1,1059.8 519.1,1096.1 521.0,1058.7 522.9,1097.0 524.8,1055.0 526.7,1079.2 528.6,1029.0 530.5,1086.1 532.4,1052.5 534.3,1075.5 536.2,1015.0 538.1,1065.9 540.0,1003.9 541.9,1031.5 543.8,1001.9 545.7,1041.7 547.6,1007.9 549.5,1030.0 551.4,993.8 553.3,1060.0 555.2,985.3 557.1,1048.6 559.0,990.3 560.9,1046.8 562.8,1005.1 564.7,1033.4 566.6,979.0 568.5,1019.8 570.4,994.8 572.3,1021.6 574.2,992.8 576.1,1082.8 578.0,991.1 579.9,1031.0 581.8,982.7 583.7,1011.8 585.6,986.7 587.5,1023.1 589.4,989.5 591.3,1026.2 593.2,986.6 595.1,1013.3 597.0,961.9 598.9,1024.5 600.8,985.8 602.7,1000.6 604.6,984.2 606.5,998.8 608.4,1014.5 610.3,993.1 612.2,972.8 614.1,997.8 616.0,989.3 617.9,1001.6 619.9,981.6 621.8,987.6 623.7,975.9 625.6,993.2 627.5,968.9 629.4,991.6 631.3,963.5 633.2,984.5 635.1,952.0 637.0,987.1 638.9,957.9 640.8,992.0 642.7,955.9 644.6,1021.4 646.5,953.8 648.4,972.4 650.3,946.6 652.2,931.1 654.1,967.0 656.0,975.2 657.9,949.0 659.8,961.1 661.7,952.9 663.6,972.9 665.5,941.3 667.4,971.7 669.3,954.5 671.2,975.5 673.1,941.3 675.0,960.0 676.9,924.0 678.8,954.0 680.7,936.3 682.6,965.7 684.5,920.8 686.4,960.5 688.3,950.0 690.2,973.7 692.1,941.2 694.0,967.0 695.9,935.8 697.8,965.3 699.7,939.9 701.6,968.1 703.5,922.8 705.4,940.4 707.3,913.2 709.2,927.0 711.1,925.1 713.0,942.6 714.9,915.4 716.8,934.9 718.8,900.6 720.7,917.1 722.6,908.3 724.5,924.9 726.4,900.2 728.3,905.2 730.2,881.3 732.1,905.2 734.0,888.5 735.9,910.3 737.8,889.0 739.7,898.7 741.6,880.3 743.5,904.4 745.4,894.4 747.3,895.4 749.2,903.8 751.1,905.3 753.0,870.5 754.9,886.3 756.8,868.4 758.7,893.3 760.6,876.4 762.5,905.3 764.4,864.8 766.3,898.7 768.2,867.5 770.1,890.7 772.0,862.9 773.9,897.9 775.8,865.9 777.7,886.3 779.6,880.2 781.5,869.6 783.4,891.7 785.3,886.0 787.2,855.3 789.1,875.9 791.0,848.1 792.9,874.0 794.8,851.1 796.7,874.6 798.6,851.8 800.5,874.7 802.4,846.1 804.3,869.5 806.2,841.1 808.1,868.8 810.0,835.2 811.9,880.1 813.8,830.9 815.7,851.3 817.6,830.1 819.6,871.8 821.5,832.2 823.4,853.1 825.3,853.4 827.2,848.8 829.1,826.1 831.0,846.7 832.9,827.2 834.8,834.8 836.7,817.7 838.6,834.2 840.5,806.0 842.4,818.0 844.3,810.7 846.2,817.6 848.1,793.5 850.0,806.2 851.9,788.2 853.8,813.4 855.7,789.8 857.6,810.7 859.5,800.0 861.4,800.6 863.3,775.1 865.2,807.2 867.1,793.5 869.0,799.3 870.9,777.0 872.8,795.9 874.7,781.8 876.6,808.9 878.5,764.2 880.4,784.7 882.3,771.7 884.2,787.3 886.1,774.1 888.0,789.7 889.9,779.3 891.8,785.6 893.7,771.2 895.6,786.2 897.5,767.7 899.4,776.0 901.3,762.6 903.2,773.1 905.1,755.1 907.0,780.6 908.9,761.6 910.8,777.4 912.7,753.7 914.6,765.2 916.5,740.3 918.5,762.4 920.4,738.4 922.3,763.1 924.2,722.9 926.1,769.4 928.0,756.9 929.9,744.4 931.8,720.0 933.7,739.3 935.6,729.8 937.5,730.7 939.4,704.1 941.3,727.1 943.2,704.6 945.1,704.7 947.0,707.2 948.9,727.6 950.8,688.1 952.7,709.3 954.6,699.2 956.5,700.5 958.4,683.0 960.3,697.3 962.2,686.6 964.1,703.1 966.0,680.6 967.9,699.4 969.8,672.1 971.7,699.6 973.6,691.4 975.5,691.4 977.4,651.2 979.3,688.6 981.2,661.9 983.1,685.7 985.0,658.2 986.9,689.8 988.8,674.0 990.7,683.2 992.6,651.3 994.5,698.1 996.4,665.0 998.3,661.6 1000.2,648.0 1002.1,688.4 1004.0,635.0 1005.9,669.9 1007.8,645.4 1009.7,673.5 1011.6,627.7 1013.5,657.8 1015.4,660.0 1017.3,665.3 1019.3,646.9 1021.2,659.5 1023.1,624.1 1025.0,667.3 1026.9,631.5 1028.8,657.1 1030.7,625.0 1032.6,644.0 1034.5,648.2 1036.4,632.3 1038.3,605.9 1040.2,638.2 1042.1,609.0 1044.0,639.3 1045.9,611.9 1047.8,633.1 1049.7,609.3 1051.6,615.8 1053.5,608.3 1055.4,618.4 1057.3,583.2 1059.2,615.0 1061.1,602.9 1063.0,612.3 1064.9,595.0 1066.8,628.5 1068.7,598.4 1070.6,624.6 1072.5,583.1 1074.4,628.0 1076.3,585.8 1078.2,609.2 1080.1,594.9 1082.0,594.2 1083.9,574.2 1085.8,602.7 1087.7,565.6 1089.6,596.4 1091.5,555.8 1093.4,606.9 1095.3,566.8 1097.2,591.2 1099.1,564.1 1101.0,601.4 1102.9,572.4 1104.8,592.4 1106.7,540.2 1108.6,596.8 1110.5,540.4 1112.4,611.6 1114.3,552.6 1116.2,574.9 1118.2,555.0 1120.1,578.9 1122.0,543.1 1123.9,558.3 1125.8,537.8 1127.7,546.9 1129.6,535.3 1131.5,547.3 1133.4,522.9 1135.3,544.0 1137.2,523.0 1139.1,529.3 1141.0,518.8 1142.9,531.0 1144.8,527.1 1146.7,535.6 1148.6,513.1 1150.5,517.9 1152.4,512.6 1154.3,520.7 1156.2,506.3 1158.1,514.3 1160.0,507.5 1161.9,518.8 1163.8,494.3 1165.7,505.0 1167.6,501.8 1169.5,504.2 1171.4,491.6 1173.3,494.4 1175.2,486.2 1177.1,494.4 1179.0,485.3 1180.9,495.4 1182.8,472.6 1184.7,491.4 1186.6,472.5 1188.5,490.9 1190.4,472.5 1192.3,497.2 1194.2,471.8 1196.1,494.8 1198.0,463.0 1199.9,485.0 1201.8,467.4 1203.7,466.6 1205.6,455.5 1207.5,473.5 1209.4,465.4 1211.3,471.1 1213.2,450.7 1215.1,457.2 1217.0,452.8 1219.0,463.4 1220.9,448.1 1222.8,462.0 1224.7,445.8 1226.6,464.7 1228.5,444.8 1230.4,455.0 1232.3,448.5 1234.2,453.1 1236.1,438.3 1238.0,449.4 1239.9,438.7 1241.8,445.3 1243.7,428.9 1245.6,444.9 1247.5,430.6 1249.4,438.2 1251.3,433.4 1253.2,436.6 1255.1,427.7 1257.0,432.1 1258.9,419.5 1260.8,428.7 1262.7,421.8 1264.6,426.3 1266.5,421.2 1268.4,423.0 1270.3,412.5 1272.2,418.3 1274.1,416.5 1276.0,422.8 1277.9,424.2 1279.8,419.9 1281.7,414.1 1283.6,421.9 1285.5,408.4 1287.4,411.6 1289.3,407.1 1291.2,414.6 1293.1,408.2 1295.0,413.3 1296.9,411.5 1298.8,413.8 1300.7,416.9 1302.6,413.5 1304.5,404.9 1306.4,412.0 1308.3,419.6 1310.2,414.3 1312.1,399.5 1314.0,404.5 1315.9,405.9 1317.8,411.5 1319.8,397.8 1321.7,419.5 1323.6,402.9 1325.5,407.9 1327.4,401.3 1329.3,426.1 1331.2,401.1 1333.1,408.2 1335.0,405.6 1336.9,418.6 1338.8,391.5 1340.7,403.2 1342.6,393.9 1344.5,407.9 1346.4,399.0 1348.3,423.7 1350.2,397.2 1352.1,408.3 1354.0,398.1 1355.9,405.3 1357.8,391.4 1359.7,403.7 1361.6,401.2 1363.5,408.6 1365.4,400.5 1367.3,394.3 1369.2,398.4 1371.1,405.8 1373.0,400.0 1374.9,407.0 1376.8,401.7 1378.7,405.8 1380.6,405.0 1382.5,411.7 1384.4,398.4 1386.3,411.5 1388.2,399.2 1390.1,411.2 1392.0,399.7 1393.9,416.3 1395.8,401.7 1397.7,414.8 1399.6,403.0 1401.5,415.0 1403.4,405.5 1405.3,419.0 1407.2,400.1 1409.1,418.0 1411.0,405.3 1412.9,419.0 1414.8,400.2 1416.7,419.1 1418.7,405.6 1420.6,419.3 1422.5,406.2 1424.4,415.4 1426.3,406.3 1428.2,417.3 1430.1,409.1 1432.0,415.2 1433.9,404.3 1435.8,413.1 1437.7,414.7 1439.6,422.1 1441.5,405.2 1443.4,421.8 1445.3,410.9 1447.2,422.2 1449.1,411.4 1451.0,420.6 1452.9,410.9 1454.8,421.5 1456.7,414.4 1458.6,424.4 1460.5,414.4 1462.4,427.0 1464.3,414.8 1466.2,427.2 1468.1,421.1 1470.0,421.8 1471.9,417.5 1473.8,428.9 1475.7,418.8 1477.6,431.4 1479.5,423.7 1481.4,429.8 1483.3,426.1 1485.2,440.5 1487.1,426.7 1489.0,433.1 1490.9,424.5 1492.8,438.1 1494.7,439.5 1496.6,435.6 1498.5,444.6 1500.4,437.7 1502.3,432.2 1504.2,441.0 1506.1,430.9 1508.0,440.0 1509.9,436.9 1511.8,444.8 1513.7,434.0 1515.6,443.4 1517.5,437.1 1519.5,442.6 1521.4,439.7 1523.3,447.6 1525.2,439.8 1527.1,442.5 1529.0,443.3 1530.9,450.3 1532.8,443.2 1534.7,303.0 1536.6,443.8 1538.5,453.6 1540.4,443.8 1542.3,461.1 1544.2,445.6 1546.1,456.8 1548.0,449.9 1549.9,458.4 1551.8,455.7 1553.7,461.3 1555.6,459.9 1557.5,469.6 1559.4,457.9 1561.3,463.8 1563.2,465.5 1565.1,472.2 1567.0,462.6 1568.9,481.6 1570.8,470.6 1572.7,478.6 1574.6,469.1 1576.5,488.0 1578.4,470.6 1580.3,483.9 1582.2,476.7 1584.1,483.3 1586.0,474.8 1587.9,489.2 1589.8,471.3 1591.7,489.7 1593.6,480.9 1595.5,482.5 1597.4,490.2 1599.3,491.0 1601.2,498.0 1603.1,498.9 1605.0,484.7 1606.9,498.5 1608.8,484.1 1610.7,498.8 1612.6,493.7 1614.5,498.6 1616.4,493.5 1618.4,498.5 1620.3,494.2 1622.2,503.6 1624.1,492.8 1626.0,501.1 1627.9,497.9 1629.8,508.9 1631.7,499.7 1633.6,504.8 1635.5,500.3 1637.4,515.0 1639.3,506.2 1641.2,507.3 1643.1,504.7 1645.0,512.4 1646.9,503.8 1648.8,514.7 1650.7,510.6 1652.6,519.5 1654.5,509.7 1656.4,522.1 1658.3,507.3 1660.2,516.4 1662.1,516.1 1664.0,523.2 1665.9,515.9 1667.8,527.6 1669.7,518.8 1671.6,530.6 1673.5,519.1 1675.4,531.8 1677.3,520.8 1679.2,533.5 1681.1,531.7 1683.0,537.6 1684.9,532.8 1686.8,538.9 1688.7,538.0 1690.6,541.5 1692.5,539.2 1694.4,552.8 1696.3,539.1 1698.2,550.9 1700.1,547.3 1702.0,552.8 1703.9,541.7 1705.8,554.3 1707.7,545.7 1709.6,559.5 1711.5,557.3 1713.4,552.6 1715.3,552.0 1717.2,562.0 1719.2,554.1 1721.1,566.0 1723.0,554.0 1724.9,571.4 1726.8,564.9 1728.7,569.7 1730.6,566.2 1732.5,574.0 1734.4,566.9 1736.3,570.8 1738.2,563.0 1740.1,572.7 1742.0,565.4 1743.9,575.3 1745.8,568.4 1747.7,577.6 1749.6,569.2 1751.5,583.3 1753.4,574.6 1755.3,579.6 1757.2,572.2 1759.1,585.0 1761.0,578.6 1762.9,584.5 1764.8,575.0 1766.7,581.1 1768.6,579.6 1770.5,591.8 1772.4,583.2 1774.3,595.1 1776.2,586.4 1778.1,596.5 1780.0,589.3 1781.9,594.0 1783.8,589.8 1785.7,605.3 1787.6,596.3 1789.5,610.4 1791.4,591.9 1793.3,610.9 1795.2,607.2 1797.1,611.2 1799.0,603.5 1800.9,615.6 1802.8,605.5 1804.7,610.4 1806.6,607.5 1808.5,620.3 1810.4,615.2 1812.3,623.8 1814.2,610.0 1816.1,627.1 1818.1,616.3 1820.0,621.8 1821.9,618.7 1823.8,627.8 1825.7,617.9 1827.6,624.3 1829.5,622.0 1831.4,630.8 1833.3,625.6 1835.2,631.0 1837.1,625.4 1839.0,629.6 1840.9,626.5 1842.8,630.9 1844.7,628.8 1846.6,633.6 1848.5,629.2 1850.4,628.2 1852.3,626.4 1854.2,640.7 1856.1,633.2 1858.0,641.1 1859.9,632.8 1861.8,646.8 1863.7,633.0 1865.6,648.1 1867.5,629.5 1869.4,650.9 1871.3,659.6 1873.2,647.8 1875.1,639.6 1877.0,653.4 1878.9,653.9 1880.8,653.7 1882.7,659.3 1884.6,652.7 1886.5,651.8 1888.4,664.6 1890.3,657.3 1892.2,668.5 1894.1,658.4 1896.0,675.4 1897.9,675.1 1899.8,684.8 1901.7,664.4 1903.6,669.2 1905.5,665.5 1907.4,676.7 1909.3,663.4 1911.2,678.4 1913.1,657.5 1915.0,683.9 1916.9,661.3 1918.9,674.9 1920.8,672.5 1922.7,678.5 1924.6,669.9 1926.5,693.5 1928.4,673.3 1930.3,680.5 1932.2,668.5 1934.1,684.7 1936.0,679.6 1937.9,690.8 1939.8,680.5 1941.7,687.2 1943.6,683.9 1945.5,691.7 1947.4,681.1 1949.3,700.4 1951.2,688.8 1953.1,696.5 1955.0,691.9 1956.9,699.0 1958.8,696.3 1960.7,703.5 1962.6,698.2 1964.5,708.7 1966.4,701.5 1968.3,714.5 1970.2,713.3 1972.1,712.7 1974.0,707.4 1975.9,718.0 1977.8,709.4 1979.7,720.9 1981.6,711.5 1983.5,722.8 1985.4,718.8 1987.3,729.1 1989.2,715.4 1991.1,727.7 1993.0,721.7 1994.9,730.2 1996.8,725.8 1998.7,731.0 2000.6,726.5 2002.5,734.3 2004.4,727.1 2006.3,740.4 2008.2,728.1 2010.1,750.2 2012.0,734.4 2013.9,741.0 2015.8,733.0 2017.7,745.5 2019.7,738.8 2021.6,747.4 2023.5,739.2 2025.4,750.3 2027.3,742.5 2029.2,751.8 2031.1,742.8 2033.0,750.3 2034.9,750.0 2036.8,765.0 2038.7,749.9 2040.6,767.3 2042.5,754.5 2044.4,755.4 2046.3,760.6 2048.2,767.4 2050.1,755.3 2052.0,769.3 2053.9,762.1 2055.8,769.4 2057.7,763.1 2059.6,767.5 2061.5,767.5 2063.4,773.7 2065.3,762.8 2067.2,775.0 2069.1,769.4 2071.0,778.9 2072.9,770.6 2074.8,780.3 2076.7,769.7 2078.6,779.3 2080.5,776.2 2082.4,782.3 2084.3,777.8 2086.2,783.3 2088.1,777.2 2090.0,782.8 2091.9,783.2 2093.8,789.8 2095.7,778.7 2097.6,788.9 2099.5,781.9 2101.4,788.7 2103.3,778.7 2105.2,792.6 2107.1,782.2 2109.0,795.3 2110.9,786.0 2112.8,795.8 2114.7,782.8 2116.6,801.7 2118.6,791.7 2120.5,797.1 2122.4,790.1 2124.3,802.0 2126.2,792.1 2128.1,805.7 2130.0,789.4 2131.9,796.9 2133.8,789.2 2135.7,801.1 2137.6,790.5 2139.5,798.4 2141.4,789.8 2143.3,802.1 2145.2,796.6 2147.1,798.3 2149.0,793.6 2150.9,803.6 2152.8,792.0 2154.7,809.5 2156.6,794.3 2158.5,803.7 2160.4,792.2 2162.3,802.5 2164.2,799.5 2166.1,810.5 2168.0,796.9"/>
</g>
<g style="font-family:'Liberation Serif','Times New Roman',serif;font-size:86px" fill="#000">
<text x="254" y="1332.5" text-anchor="end">0</text>
<text x="254" y="1124.5" text-anchor="end">0.5</text>
<text x="254" y="919.5" text-anchor="end">1</text>
<text x="254" y="711.5" text-anchor="end">1.5</text>
<text x="254" y="505.5" text-anchor="end">2</text>
<text x="254" y="297.5" text-anchor="end">2.5</text>
<text x="254" y="92.5" text-anchor="end">3</text>
<text x="528.0" y="1386.5" text-anchor="middle">0.5</text>
<text x="854.8" y="1386.5" text-anchor="middle">1</text>
<text x="1183.0" y="1386.5" text-anchor="middle">1.5</text>
<text x="1512.7" y="1386.5" text-anchor="middle">2</text>
<text x="1837.3" y="1386.5" text-anchor="middle">2.5</text>
<text x="2167.3" y="1386.5" text-anchor="middle">3</text>
<text x="1213" y="1469" text-anchor="middle">T</text>
<text transform="translate(115,674) rotate(-90)" text-anchor="middle">Drag coefficient</text>
</g>
<rect x="312.5" y="96.5" width="456" height="521" fill="#fff" stroke="#000" stroke-width="1"/>
<g style="font-family:'Liberation Serif','Times New Roman',serif;font-size:86px" fill="#000">
<path stroke="#ff0000" stroke-width="1.2" d="M332,153.5 H436"/>
<text transform="translate(446,184) scale(0.963,1)">smooth</text>
<path stroke="#0000ff" stroke-width="1.2" d="M332,253.5 H436"/>
<text transform="translate(446,286) scale(0.963,1)">arc</text>
<path stroke="#008000" stroke-width="1.2" d="M332,356.5 H436"/>
<text transform="translate(446,388) scale(0.963,1)">rectangle</text>
<path stroke="#ffb300" stroke-width="1.2" d="M332,458.5 H436"/>
<text transform="translate(446,491) scale(0.963,1)">trapezoid</text>
<path stroke="#ff00ff" stroke-width="1.2" d="M332,559.5 H436"/>
<text transform="translate(446,594) scale(0.963,1)">triangle</text>
</g>
</svg></body></html>
